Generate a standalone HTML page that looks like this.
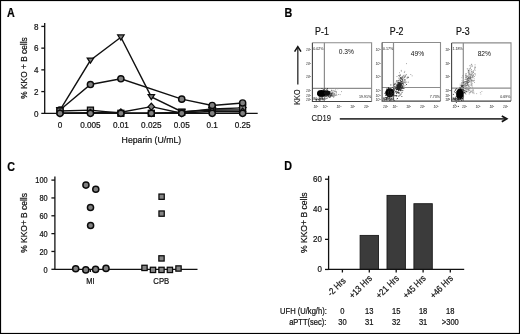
<!DOCTYPE html>
<html><head><meta charset="utf-8"><style>
html,body{margin:0;padding:0;background:#fff;}
body{width:520px;height:334px;overflow:hidden;}
svg{display:block;filter:grayscale(1) blur(0.3px);}
text{font-family:"Liberation Sans",sans-serif;fill:#111;stroke:#111;stroke-width:0.22px;}
.b{font-weight:bold;fill:#000;}
</style></head><body>
<svg width="520" height="334" viewBox="0 0 520 334">
<rect x="0" y="0" width="520" height="334" fill="#fff"/>

<text transform="translate(7.00,16.60) scale(0.88,1)" font-size="12.20" text-anchor="start" class="b">A</text>
<text transform="translate(284.60,16.80) scale(0.88,1)" font-size="12.20" text-anchor="start" class="b">B</text>
<text transform="translate(7.20,170.80) scale(0.88,1)" font-size="12.20" text-anchor="start" class="b">C</text>
<text transform="translate(284.30,170.40) scale(0.88,1)" font-size="12.20" text-anchor="start" class="b">D</text>
<g stroke="#111" stroke-width="1.3" fill="none">
<line x1="44.7" y1="22.9" x2="44.7" y2="113.3"/>
<line x1="41.3" y1="113.3" x2="257.7" y2="113.3"/>
<line x1="41.3" y1="91.58" x2="44.7" y2="91.58"/>
<line x1="41.3" y1="69.86" x2="44.7" y2="69.86"/>
<line x1="41.3" y1="48.14" x2="44.7" y2="48.14"/>
<line x1="41.3" y1="26.42" x2="44.7" y2="26.42"/>
</g>
<text transform="translate(38.60,116.50) scale(0.88,1)" font-size="9.20" text-anchor="end">0</text>
<text transform="translate(38.60,94.78) scale(0.88,1)" font-size="9.20" text-anchor="end">2</text>
<text transform="translate(38.60,73.06) scale(0.88,1)" font-size="9.20" text-anchor="end">4</text>
<text transform="translate(38.60,51.34) scale(0.88,1)" font-size="9.20" text-anchor="end">6</text>
<text transform="translate(38.60,29.62) scale(0.88,1)" font-size="9.20" text-anchor="end">8</text>
<text transform="translate(60.00,127.90) scale(0.88,1)" font-size="9.30" text-anchor="middle">0</text>
<text transform="translate(90.44,127.90) scale(0.88,1)" font-size="9.30" text-anchor="middle">0.005</text>
<text transform="translate(120.88,127.90) scale(0.88,1)" font-size="9.30" text-anchor="middle">0.01</text>
<text transform="translate(151.32,127.90) scale(0.88,1)" font-size="9.30" text-anchor="middle">0.025</text>
<text transform="translate(181.76,127.90) scale(0.88,1)" font-size="9.30" text-anchor="middle">0.05</text>
<text transform="translate(212.20,127.90) scale(0.88,1)" font-size="9.30" text-anchor="middle">0.1</text>
<text transform="translate(242.64,127.90) scale(0.88,1)" font-size="9.30" text-anchor="middle">0.25</text>
<text transform="translate(151.40,142.80) scale(0.88,1)" font-size="9.92" text-anchor="middle">Heparin (U/mL)</text>
<text transform="translate(27.20,68.00) rotate(-90) scale(0.88,1)" font-size="9.49" text-anchor="middle">% KKO + B cells</text>
<path d="M60.00,110.04 L90.44,60.30 L120.88,37.28 L151.32,96.90 L181.76,111.67 L212.20,110.04 L242.64,110.04" fill="none" stroke="#111" stroke-width="1.4"/>
<path d="M60.00,110.04 L90.44,84.52 L120.88,78.77 L181.76,99.18 L212.20,105.48 L242.64,102.98" fill="none" stroke="#111" stroke-width="1.4"/>
<path d="M60.00,111.02 L90.44,110.15 L120.88,113.30 L151.32,113.30 L181.76,112.21 L212.20,108.96 L242.64,107.87" fill="none" stroke="#111" stroke-width="1.4"/>
<path d="M60.00,113.30 L90.44,112.76 L120.88,112.21 L151.32,106.68 L181.76,113.30 L212.20,111.13 L242.64,111.67" fill="none" stroke="#111" stroke-width="1.4"/>
<path d="M60.00,113.30 L90.44,113.30 L120.88,113.30 L151.32,113.30 L181.76,113.30 L212.20,113.30 L242.64,113.30" fill="none" stroke="#111" stroke-width="1.4"/>
<path d="M56.80,107.74h6.4l-3.2,5z" fill="#808080" stroke="#0a0a0a" stroke-width="1.25"/>
<path d="M87.24,58.00h6.4l-3.2,5z" fill="#808080" stroke="#0a0a0a" stroke-width="1.25"/>
<path d="M117.68,34.98h6.4l-3.2,5z" fill="#808080" stroke="#0a0a0a" stroke-width="1.25"/>
<path d="M148.12,94.60h6.4l-3.2,5z" fill="#808080" stroke="#0a0a0a" stroke-width="1.25"/>
<path d="M178.56,109.37h6.4l-3.2,5z" fill="#808080" stroke="#0a0a0a" stroke-width="1.25"/>
<path d="M209.00,107.74h6.4l-3.2,5z" fill="#808080" stroke="#0a0a0a" stroke-width="1.25"/>
<path d="M239.44,107.74h6.4l-3.2,5z" fill="#808080" stroke="#0a0a0a" stroke-width="1.25"/>
<circle cx="60.00" cy="110.04" r="3.1" fill="#808080" stroke="#0a0a0a" stroke-width="1.45"/>
<rect x="57.00" y="108.02" width="6" height="6" fill="#808080" stroke="#0a0a0a" stroke-width="1.3"/>
<rect x="87.44" y="107.15" width="6" height="6" fill="#808080" stroke="#0a0a0a" stroke-width="1.3"/>
<rect x="117.88" y="110.30" width="6" height="6" fill="#808080" stroke="#0a0a0a" stroke-width="1.3"/>
<rect x="148.32" y="110.30" width="6" height="6" fill="#808080" stroke="#0a0a0a" stroke-width="1.3"/>
<rect x="178.76" y="109.21" width="6" height="6" fill="#808080" stroke="#0a0a0a" stroke-width="1.3"/>
<rect x="209.20" y="105.96" width="6" height="6" fill="#808080" stroke="#0a0a0a" stroke-width="1.3"/>
<rect x="239.64" y="104.87" width="6" height="6" fill="#808080" stroke="#0a0a0a" stroke-width="1.3"/>
<path d="M60.00,109.90l3.2,3.4l-3.2,3.4l-3.2,-3.4z" fill="#808080" stroke="#0a0a0a" stroke-width="1.25"/>
<path d="M90.44,109.36l3.2,3.4l-3.2,3.4l-3.2,-3.4z" fill="#808080" stroke="#0a0a0a" stroke-width="1.25"/>
<path d="M120.88,108.81l3.2,3.4l-3.2,3.4l-3.2,-3.4z" fill="#808080" stroke="#0a0a0a" stroke-width="1.25"/>
<path d="M151.32,103.28l3.2,3.4l-3.2,3.4l-3.2,-3.4z" fill="#808080" stroke="#0a0a0a" stroke-width="1.25"/>
<path d="M181.76,109.90l3.2,3.4l-3.2,3.4l-3.2,-3.4z" fill="#808080" stroke="#0a0a0a" stroke-width="1.25"/>
<path d="M212.20,107.73l3.2,3.4l-3.2,3.4l-3.2,-3.4z" fill="#808080" stroke="#0a0a0a" stroke-width="1.25"/>
<path d="M242.64,108.27l3.2,3.4l-3.2,3.4l-3.2,-3.4z" fill="#808080" stroke="#0a0a0a" stroke-width="1.25"/>
<circle cx="90.44" cy="84.52" r="3.1" fill="#808080" stroke="#0a0a0a" stroke-width="1.45"/>
<circle cx="120.88" cy="78.77" r="3.1" fill="#808080" stroke="#0a0a0a" stroke-width="1.45"/>
<circle cx="181.76" cy="99.18" r="3.1" fill="#808080" stroke="#0a0a0a" stroke-width="1.45"/>
<circle cx="212.20" cy="105.48" r="3.1" fill="#808080" stroke="#0a0a0a" stroke-width="1.45"/>
<circle cx="242.64" cy="102.98" r="3.1" fill="#808080" stroke="#0a0a0a" stroke-width="1.45"/>
<circle cx="60.00" cy="113.30" r="3.1" fill="#808080" stroke="#0a0a0a" stroke-width="1.45"/>
<circle cx="90.44" cy="113.30" r="3.1" fill="#808080" stroke="#0a0a0a" stroke-width="1.45"/>
<circle cx="120.88" cy="113.30" r="3.1" fill="#808080" stroke="#0a0a0a" stroke-width="1.45"/>
<circle cx="151.32" cy="113.30" r="3.1" fill="#808080" stroke="#0a0a0a" stroke-width="1.45"/>
<circle cx="181.76" cy="113.30" r="3.1" fill="#808080" stroke="#0a0a0a" stroke-width="1.45"/>
<circle cx="212.20" cy="113.30" r="3.1" fill="#808080" stroke="#0a0a0a" stroke-width="1.45"/>
<circle cx="242.64" cy="113.30" r="3.1" fill="#808080" stroke="#0a0a0a" stroke-width="1.45"/>
<defs><filter id="bl" x="-50%" y="-50%" width="200%" height="200%"><feGaussianBlur stdDeviation="0.9"/></filter><filter id="bl2" x="-50%" y="-50%" width="200%" height="200%"><feGaussianBlur stdDeviation="0.45"/></filter></defs>
<text transform="translate(315.10,34.70) scale(0.88,1)" font-size="10.00" text-anchor="start">P-1</text>
<line x1="324.4" y1="42.8" x2="324.4" y2="101.5" stroke="#8c8c8c" stroke-width="1.2"/>
<line x1="312.4" y1="88.3" x2="371.6" y2="88.3" stroke="#8c8c8c" stroke-width="1.2"/>
<path d="M312.4,42.8H371.6V101.5" fill="none" stroke="#8c8c8c" stroke-width="1.1"/>
<rect x="329.0" y="94.5" width="0.9" height="0.9" fill="#999"/><rect x="329.1" y="92.9" width="0.9" height="0.9" fill="#999"/><rect x="326.3" y="93.1" width="0.9" height="0.9" fill="#999"/><rect x="334.4" y="94.3" width="0.9" height="0.9" fill="#999"/><rect x="334.1" y="94.0" width="0.9" height="0.9" fill="#999"/><rect x="331.6" y="93.9" width="0.9" height="0.9" fill="#999"/><rect x="323.3" y="95.2" width="0.9" height="0.9" fill="#999"/><rect x="332.0" y="94.5" width="0.9" height="0.9" fill="#999"/><rect x="323.2" y="90.0" width="0.9" height="0.9" fill="#999"/><rect x="326.4" y="92.6" width="0.9" height="0.9" fill="#999"/><rect x="331.2" y="93.4" width="0.9" height="0.9" fill="#999"/><rect x="332.1" y="92.2" width="0.9" height="0.9" fill="#999"/><rect x="331.2" y="94.3" width="0.9" height="0.9" fill="#999"/><rect x="327.4" y="96.9" width="0.9" height="0.9" fill="#999"/><rect x="332.2" y="95.9" width="0.9" height="0.9" fill="#999"/><rect x="327.5" y="92.0" width="0.9" height="0.9" fill="#999"/><rect x="328.6" y="93.3" width="0.9" height="0.9" fill="#999"/><rect x="332.5" y="94.0" width="0.9" height="0.9" fill="#999"/><rect x="328.2" y="91.6" width="0.9" height="0.9" fill="#999"/><rect x="327.9" y="95.9" width="0.9" height="0.9" fill="#999"/><rect x="326.8" y="94.0" width="0.9" height="0.9" fill="#999"/><rect x="331.7" y="90.5" width="0.9" height="0.9" fill="#999"/><rect x="330.2" y="96.1" width="0.9" height="0.9" fill="#999"/><rect x="321.9" y="92.9" width="0.9" height="0.9" fill="#999"/><rect x="329.6" y="91.9" width="0.9" height="0.9" fill="#999"/><rect x="332.0" y="93.4" width="0.9" height="0.9" fill="#999"/><rect x="324.1" y="95.2" width="0.9" height="0.9" fill="#999"/><rect x="332.7" y="95.4" width="0.9" height="0.9" fill="#999"/><rect x="335.8" y="94.2" width="0.9" height="0.9" fill="#999"/><rect x="330.5" y="90.9" width="0.9" height="0.9" fill="#999"/><rect x="332.5" y="92.3" width="0.9" height="0.9" fill="#999"/><rect x="328.2" y="91.0" width="0.9" height="0.9" fill="#999"/><rect x="326.1" y="92.4" width="0.9" height="0.9" fill="#999"/><rect x="335.2" y="89.4" width="0.9" height="0.9" fill="#999"/><rect x="324.2" y="94.0" width="0.9" height="0.9" fill="#999"/><rect x="335.8" y="94.7" width="0.9" height="0.9" fill="#999"/><rect x="322.4" y="88.5" width="0.9" height="0.9" fill="#999"/><rect x="331.4" y="92.0" width="0.9" height="0.9" fill="#999"/><rect x="325.5" y="95.5" width="0.9" height="0.9" fill="#999"/><rect x="334.4" y="93.8" width="0.9" height="0.9" fill="#999"/><rect x="331.0" y="94.4" width="0.9" height="0.9" fill="#999"/><rect x="336.4" y="94.7" width="0.9" height="0.9" fill="#999"/><rect x="332.1" y="94.6" width="0.9" height="0.9" fill="#999"/><rect x="323.7" y="96.1" width="0.9" height="0.9" fill="#999"/><rect x="333.8" y="94.6" width="0.9" height="0.9" fill="#999"/><rect x="322.1" y="92.2" width="0.9" height="0.9" fill="#999"/><rect x="333.4" y="89.9" width="0.9" height="0.9" fill="#999"/><rect x="329.3" y="95.5" width="0.9" height="0.9" fill="#999"/><rect x="324.8" y="96.7" width="0.9" height="0.9" fill="#999"/><rect x="332.2" y="93.2" width="0.9" height="0.9" fill="#999"/><rect x="331.3" y="94.8" width="0.9" height="0.9" fill="#999"/><rect x="330.5" y="95.8" width="0.9" height="0.9" fill="#999"/><rect x="327.4" y="92.7" width="0.9" height="0.9" fill="#999"/><rect x="334.2" y="93.6" width="0.9" height="0.9" fill="#999"/><rect x="326.5" y="95.4" width="0.9" height="0.9" fill="#999"/><rect x="335.9" y="92.6" width="0.9" height="0.9" fill="#999"/><rect x="324.5" y="93.2" width="0.9" height="0.9" fill="#999"/><rect x="329.4" y="92.9" width="0.9" height="0.9" fill="#999"/><rect x="335.6" y="91.4" width="0.9" height="0.9" fill="#999"/><rect x="335.0" y="91.0" width="0.9" height="0.9" fill="#999"/><rect x="326.9" y="94.8" width="0.9" height="0.9" fill="#999"/><rect x="334.5" y="95.2" width="0.9" height="0.9" fill="#999"/><rect x="331.4" y="93.8" width="0.9" height="0.9" fill="#999"/><rect x="330.6" y="94.7" width="0.9" height="0.9" fill="#999"/><rect x="329.3" y="94.1" width="0.9" height="0.9" fill="#999"/><rect x="332.3" y="93.5" width="0.9" height="0.9" fill="#999"/><rect x="333.1" y="94.6" width="0.9" height="0.9" fill="#999"/><rect x="338.0" y="94.1" width="0.9" height="0.9" fill="#999"/><rect x="328.3" y="92.8" width="0.9" height="0.9" fill="#999"/><rect x="329.9" y="95.3" width="0.9" height="0.9" fill="#999"/><rect x="328.7" y="94.3" width="0.9" height="0.9" fill="#999"/><rect x="337.3" y="88.4" width="0.9" height="0.9" fill="#999"/><rect x="325.5" y="94.0" width="0.9" height="0.9" fill="#999"/><rect x="331.6" y="94.0" width="0.9" height="0.9" fill="#999"/><rect x="328.3" y="94.8" width="0.9" height="0.9" fill="#999"/><rect x="331.1" y="92.5" width="0.9" height="0.9" fill="#999"/><rect x="339.7" y="94.2" width="0.9" height="0.9" fill="#999"/><rect x="327.8" y="93.3" width="0.9" height="0.9" fill="#999"/><rect x="329.1" y="93.4" width="0.9" height="0.9" fill="#999"/><rect x="319.1" y="92.5" width="0.9" height="0.9" fill="#999"/><rect x="334.0" y="91.2" width="0.9" height="0.9" fill="#999"/><rect x="329.7" y="95.4" width="0.9" height="0.9" fill="#999"/><rect x="333.4" y="96.5" width="0.9" height="0.9" fill="#999"/><rect x="323.2" y="92.8" width="0.9" height="0.9" fill="#999"/><rect x="328.6" y="94.7" width="0.9" height="0.9" fill="#999"/><rect x="334.4" y="88.1" width="0.9" height="0.9" fill="#999"/><rect x="334.4" y="90.6" width="0.9" height="0.9" fill="#999"/><rect x="332.7" y="90.5" width="0.9" height="0.9" fill="#999"/><rect x="330.7" y="95.9" width="0.9" height="0.9" fill="#999"/><rect x="329.4" y="93.9" width="0.9" height="0.9" fill="#999"/><rect x="333.2" y="93.8" width="0.9" height="0.9" fill="#999"/><rect x="329.6" y="96.6" width="0.9" height="0.9" fill="#999"/><rect x="334.2" y="92.9" width="0.9" height="0.9" fill="#999"/><rect x="341.0" y="91.2" width="0.9" height="0.9" fill="#999"/><rect x="333.7" y="93.0" width="0.9" height="0.9" fill="#999"/><rect x="330.5" y="94.9" width="0.9" height="0.9" fill="#999"/><rect x="330.9" y="94.8" width="0.9" height="0.9" fill="#999"/><rect x="323.9" y="90.5" width="0.9" height="0.9" fill="#999"/><rect x="332.5" y="91.6" width="0.9" height="0.9" fill="#999"/><rect x="325.9" y="90.6" width="0.9" height="0.9" fill="#999"/><rect x="335.1" y="95.0" width="0.9" height="0.9" fill="#999"/><rect x="335.9" y="91.6" width="0.9" height="0.9" fill="#999"/><rect x="330.0" y="91.2" width="0.9" height="0.9" fill="#999"/><rect x="333.1" y="96.7" width="0.9" height="0.9" fill="#999"/><rect x="326.4" y="96.6" width="0.9" height="0.9" fill="#999"/><rect x="334.0" y="93.1" width="0.9" height="0.9" fill="#999"/><rect x="322.1" y="96.3" width="0.9" height="0.9" fill="#999"/><rect x="329.6" y="92.3" width="0.9" height="0.9" fill="#999"/><rect x="331.6" y="94.3" width="0.9" height="0.9" fill="#999"/><rect x="336.0" y="91.5" width="0.9" height="0.9" fill="#999"/>
<rect x="328.6" y="96.3" width="0.9" height="0.9" fill="#333"/><rect x="329.6" y="92.9" width="0.9" height="0.9" fill="#333"/><rect x="322.6" y="95.3" width="0.9" height="0.9" fill="#333"/><rect x="325.4" y="93.5" width="0.9" height="0.9" fill="#333"/><rect x="329.6" y="92.8" width="0.9" height="0.9" fill="#333"/><rect x="317.7" y="92.5" width="0.9" height="0.9" fill="#333"/><rect x="319.1" y="94.9" width="0.9" height="0.9" fill="#333"/><rect x="326.0" y="92.1" width="0.9" height="0.9" fill="#333"/><rect x="325.0" y="95.0" width="0.9" height="0.9" fill="#333"/><rect x="325.3" y="96.0" width="0.9" height="0.9" fill="#333"/><rect x="324.8" y="95.4" width="0.9" height="0.9" fill="#333"/><rect x="329.8" y="96.5" width="0.9" height="0.9" fill="#333"/><rect x="322.9" y="95.1" width="0.9" height="0.9" fill="#333"/><rect x="319.0" y="91.1" width="0.9" height="0.9" fill="#333"/><rect x="318.7" y="95.4" width="0.9" height="0.9" fill="#333"/><rect x="321.1" y="93.3" width="0.9" height="0.9" fill="#333"/><rect x="324.4" y="93.2" width="0.9" height="0.9" fill="#333"/><rect x="323.1" y="93.8" width="0.9" height="0.9" fill="#333"/><rect x="330.7" y="93.4" width="0.9" height="0.9" fill="#333"/><rect x="326.7" y="95.3" width="0.9" height="0.9" fill="#333"/><rect x="324.4" y="90.8" width="0.9" height="0.9" fill="#333"/><rect x="323.2" y="95.4" width="0.9" height="0.9" fill="#333"/><rect x="319.7" y="92.1" width="0.9" height="0.9" fill="#333"/><rect x="328.2" y="94.9" width="0.9" height="0.9" fill="#333"/><rect x="325.0" y="94.9" width="0.9" height="0.9" fill="#333"/><rect x="325.5" y="90.9" width="0.9" height="0.9" fill="#333"/><rect x="320.0" y="92.0" width="0.9" height="0.9" fill="#333"/><rect x="328.0" y="92.2" width="0.9" height="0.9" fill="#333"/><rect x="322.1" y="91.8" width="0.9" height="0.9" fill="#333"/><rect x="320.1" y="93.1" width="0.9" height="0.9" fill="#333"/><rect x="321.2" y="94.0" width="0.9" height="0.9" fill="#333"/><rect x="317.4" y="94.0" width="0.9" height="0.9" fill="#333"/><rect x="322.9" y="89.4" width="0.9" height="0.9" fill="#333"/><rect x="327.3" y="92.7" width="0.9" height="0.9" fill="#333"/><rect x="317.9" y="91.5" width="0.9" height="0.9" fill="#333"/><rect x="325.9" y="92.4" width="0.9" height="0.9" fill="#333"/><rect x="327.5" y="94.8" width="0.9" height="0.9" fill="#333"/><rect x="327.1" y="94.0" width="0.9" height="0.9" fill="#333"/><rect x="329.3" y="94.6" width="0.9" height="0.9" fill="#333"/><rect x="326.4" y="89.1" width="0.9" height="0.9" fill="#333"/><rect x="327.9" y="95.9" width="0.9" height="0.9" fill="#333"/><rect x="324.0" y="92.4" width="0.9" height="0.9" fill="#333"/><rect x="331.2" y="89.8" width="0.9" height="0.9" fill="#333"/><rect x="326.5" y="98.1" width="0.9" height="0.9" fill="#333"/><rect x="322.0" y="94.7" width="0.9" height="0.9" fill="#333"/><rect x="331.0" y="93.1" width="0.9" height="0.9" fill="#333"/><rect x="326.8" y="95.1" width="0.9" height="0.9" fill="#333"/><rect x="322.1" y="93.1" width="0.9" height="0.9" fill="#333"/><rect x="325.9" y="95.0" width="0.9" height="0.9" fill="#333"/><rect x="324.9" y="92.9" width="0.9" height="0.9" fill="#333"/><rect x="321.7" y="92.6" width="0.9" height="0.9" fill="#333"/><rect x="327.9" y="93.5" width="0.9" height="0.9" fill="#333"/><rect x="322.3" y="91.6" width="0.9" height="0.9" fill="#333"/><rect x="333.5" y="95.6" width="0.9" height="0.9" fill="#333"/><rect x="327.0" y="88.1" width="0.9" height="0.9" fill="#333"/><rect x="327.0" y="94.3" width="0.9" height="0.9" fill="#333"/><rect x="330.4" y="94.2" width="0.9" height="0.9" fill="#333"/><rect x="324.8" y="94.3" width="0.9" height="0.9" fill="#333"/><rect x="318.8" y="95.4" width="0.9" height="0.9" fill="#333"/><rect x="326.0" y="91.9" width="0.9" height="0.9" fill="#333"/><rect x="329.2" y="96.9" width="0.9" height="0.9" fill="#333"/><rect x="320.5" y="92.0" width="0.9" height="0.9" fill="#333"/><rect x="325.9" y="93.7" width="0.9" height="0.9" fill="#333"/><rect x="323.7" y="91.4" width="0.9" height="0.9" fill="#333"/><rect x="331.8" y="95.4" width="0.9" height="0.9" fill="#333"/><rect x="321.2" y="90.6" width="0.9" height="0.9" fill="#333"/><rect x="330.5" y="95.3" width="0.9" height="0.9" fill="#333"/><rect x="330.8" y="94.9" width="0.9" height="0.9" fill="#333"/><rect x="322.2" y="93.8" width="0.9" height="0.9" fill="#333"/><rect x="318.1" y="91.8" width="0.9" height="0.9" fill="#333"/><rect x="324.8" y="94.3" width="0.9" height="0.9" fill="#333"/><rect x="322.7" y="93.1" width="0.9" height="0.9" fill="#333"/><rect x="326.5" y="94.1" width="0.9" height="0.9" fill="#333"/><rect x="327.0" y="93.7" width="0.9" height="0.9" fill="#333"/><rect x="324.0" y="94.9" width="0.9" height="0.9" fill="#333"/><rect x="325.2" y="91.6" width="0.9" height="0.9" fill="#333"/><rect x="323.0" y="93.3" width="0.9" height="0.9" fill="#333"/><rect x="324.6" y="93.6" width="0.9" height="0.9" fill="#333"/><rect x="325.0" y="93.7" width="0.9" height="0.9" fill="#333"/><rect x="324.6" y="90.8" width="0.9" height="0.9" fill="#333"/><rect x="326.3" y="95.4" width="0.9" height="0.9" fill="#333"/><rect x="326.4" y="92.9" width="0.9" height="0.9" fill="#333"/><rect x="326.4" y="91.4" width="0.9" height="0.9" fill="#333"/><rect x="318.9" y="93.4" width="0.9" height="0.9" fill="#333"/><rect x="322.0" y="94.8" width="0.9" height="0.9" fill="#333"/><rect x="321.5" y="88.0" width="0.9" height="0.9" fill="#333"/><rect x="321.7" y="96.5" width="0.9" height="0.9" fill="#333"/><rect x="323.8" y="90.6" width="0.9" height="0.9" fill="#333"/><rect x="322.6" y="94.3" width="0.9" height="0.9" fill="#333"/><rect x="326.6" y="93.7" width="0.9" height="0.9" fill="#333"/><rect x="329.7" y="94.7" width="0.9" height="0.9" fill="#333"/><rect x="324.9" y="94.5" width="0.9" height="0.9" fill="#333"/><rect x="330.3" y="95.2" width="0.9" height="0.9" fill="#333"/><rect x="328.3" y="91.1" width="0.9" height="0.9" fill="#333"/><rect x="324.5" y="94.8" width="0.9" height="0.9" fill="#333"/><rect x="324.1" y="95.4" width="0.9" height="0.9" fill="#333"/><rect x="326.9" y="95.1" width="0.9" height="0.9" fill="#333"/><rect x="324.3" y="98.4" width="0.9" height="0.9" fill="#333"/><rect x="329.0" y="92.9" width="0.9" height="0.9" fill="#333"/><rect x="325.3" y="98.5" width="0.9" height="0.9" fill="#333"/><rect x="323.9" y="95.0" width="0.9" height="0.9" fill="#333"/><rect x="328.1" y="93.3" width="0.9" height="0.9" fill="#333"/><rect x="321.3" y="93.7" width="0.9" height="0.9" fill="#333"/><rect x="326.2" y="95.6" width="0.9" height="0.9" fill="#333"/><rect x="327.5" y="93.3" width="0.9" height="0.9" fill="#333"/><rect x="327.7" y="94.4" width="0.9" height="0.9" fill="#333"/><rect x="325.7" y="93.4" width="0.9" height="0.9" fill="#333"/><rect x="324.2" y="94.7" width="0.9" height="0.9" fill="#333"/><rect x="321.6" y="92.0" width="0.9" height="0.9" fill="#333"/><rect x="325.0" y="90.4" width="0.9" height="0.9" fill="#333"/><rect x="323.6" y="89.3" width="0.9" height="0.9" fill="#333"/><rect x="322.8" y="94.4" width="0.9" height="0.9" fill="#333"/><rect x="326.8" y="93.2" width="0.9" height="0.9" fill="#333"/><rect x="324.3" y="90.5" width="0.9" height="0.9" fill="#333"/><rect x="330.8" y="94.3" width="0.9" height="0.9" fill="#333"/><rect x="328.5" y="91.5" width="0.9" height="0.9" fill="#333"/><rect x="324.4" y="89.7" width="0.9" height="0.9" fill="#333"/><rect x="327.5" y="95.2" width="0.9" height="0.9" fill="#333"/><rect x="318.9" y="93.2" width="0.9" height="0.9" fill="#333"/><rect x="327.0" y="89.8" width="0.9" height="0.9" fill="#333"/><rect x="319.2" y="91.2" width="0.9" height="0.9" fill="#333"/><rect x="323.0" y="90.5" width="0.9" height="0.9" fill="#333"/><rect x="325.1" y="93.8" width="0.9" height="0.9" fill="#333"/><rect x="327.0" y="94.7" width="0.9" height="0.9" fill="#333"/><rect x="329.8" y="95.6" width="0.9" height="0.9" fill="#333"/><rect x="320.8" y="92.3" width="0.9" height="0.9" fill="#333"/><rect x="321.6" y="91.1" width="0.9" height="0.9" fill="#333"/><rect x="324.7" y="93.3" width="0.9" height="0.9" fill="#333"/><rect x="326.6" y="90.1" width="0.9" height="0.9" fill="#333"/><rect x="321.0" y="93.3" width="0.9" height="0.9" fill="#333"/><rect x="324.4" y="92.7" width="0.9" height="0.9" fill="#333"/><rect x="324.8" y="91.8" width="0.9" height="0.9" fill="#333"/><rect x="327.2" y="94.0" width="0.9" height="0.9" fill="#333"/><rect x="324.7" y="92.0" width="0.9" height="0.9" fill="#333"/><rect x="324.4" y="87.9" width="0.9" height="0.9" fill="#333"/><rect x="321.9" y="93.4" width="0.9" height="0.9" fill="#333"/><rect x="320.2" y="93.7" width="0.9" height="0.9" fill="#333"/><rect x="325.5" y="90.5" width="0.9" height="0.9" fill="#333"/><rect x="324.2" y="92.7" width="0.9" height="0.9" fill="#333"/><rect x="326.5" y="94.5" width="0.9" height="0.9" fill="#333"/><rect x="324.9" y="91.6" width="0.9" height="0.9" fill="#333"/><rect x="324.5" y="93.2" width="0.9" height="0.9" fill="#333"/><rect x="327.4" y="93.9" width="0.9" height="0.9" fill="#333"/><rect x="322.7" y="90.6" width="0.9" height="0.9" fill="#333"/><rect x="323.8" y="91.8" width="0.9" height="0.9" fill="#333"/><rect x="321.4" y="93.1" width="0.9" height="0.9" fill="#333"/><rect x="323.4" y="93.5" width="0.9" height="0.9" fill="#333"/><rect x="326.7" y="92.5" width="0.9" height="0.9" fill="#333"/><rect x="332.4" y="92.7" width="0.9" height="0.9" fill="#333"/><rect x="328.5" y="93.5" width="0.9" height="0.9" fill="#333"/>
<g filter="url(#bl2)"><ellipse cx="321.4" cy="93.5" rx="4.4" ry="3.4" fill="#000"/><ellipse cx="327.3" cy="92.9" rx="3.0" ry="2.3" fill="#111"/></g>
<rect x="321.3" y="96.5" width="0.9" height="0.9" fill="#444"/><rect x="315.7" y="98.8" width="0.9" height="0.9" fill="#444"/><rect x="319.8" y="100.7" width="0.9" height="0.9" fill="#444"/><rect x="319.0" y="99.8" width="0.9" height="0.9" fill="#444"/><rect x="320.3" y="99.5" width="0.9" height="0.9" fill="#444"/><rect x="319.5" y="98.5" width="0.9" height="0.9" fill="#444"/><rect x="319.5" y="97.6" width="0.9" height="0.9" fill="#444"/><rect x="321.5" y="97.7" width="0.9" height="0.9" fill="#444"/><rect x="318.7" y="100.5" width="0.9" height="0.9" fill="#444"/><rect x="317.3" y="98.6" width="0.9" height="0.9" fill="#444"/><rect x="321.5" y="98.6" width="0.9" height="0.9" fill="#444"/><rect x="315.6" y="98.8" width="0.9" height="0.9" fill="#444"/><rect x="319.7" y="99.2" width="0.9" height="0.9" fill="#444"/><rect x="315.7" y="100.2" width="0.9" height="0.9" fill="#444"/><rect x="323.0" y="98.6" width="0.9" height="0.9" fill="#444"/><rect x="318.8" y="98.2" width="0.9" height="0.9" fill="#444"/><rect x="322.2" y="98.0" width="0.9" height="0.9" fill="#444"/><rect x="320.0" y="98.2" width="0.9" height="0.9" fill="#444"/><rect x="315.9" y="99.2" width="0.9" height="0.9" fill="#444"/><rect x="322.0" y="98.6" width="0.9" height="0.9" fill="#444"/><rect x="316.0" y="99.3" width="0.9" height="0.9" fill="#444"/><rect x="317.9" y="98.9" width="0.9" height="0.9" fill="#444"/><rect x="322.6" y="99.6" width="0.9" height="0.9" fill="#444"/><rect x="316.4" y="100.7" width="0.9" height="0.9" fill="#444"/><rect x="318.0" y="99.3" width="0.9" height="0.9" fill="#444"/>
<path d="M312.4,42.8V101.5H371.6" fill="none" stroke="#444" stroke-width="1.1"/>
<text transform="translate(346.40,54.40) scale(0.88,1)" font-size="7.60" text-anchor="middle" style="stroke:none" fill="#222">0.3%</text>
<text x="313.2" y="50.2" font-size="3.6" fill="#444" style="stroke:none">0.02%</text>
<text x="371.1" y="97.8" font-size="3.6" text-anchor="end" fill="#444" style="stroke:none">19.91%</text>
<text x="313.2" y="100.2" font-size="3.6" fill="#444" style="stroke:none">80.1%</text>
<text x="311.1" y="51.1" font-size="3.3" text-anchor="end" fill="#777" style="stroke:none;font-style:italic">10<tspan font-size="2.4" dy="-1.1">1</tspan></text>
<text x="311.1" y="64.8" font-size="3.3" text-anchor="end" fill="#777" style="stroke:none;font-style:italic">10<tspan font-size="2.4" dy="-1.1">1</tspan></text>
<text x="311.1" y="78.3" font-size="3.3" text-anchor="end" fill="#777" style="stroke:none;font-style:italic">10<tspan font-size="2.4" dy="-1.1">1</tspan></text>
<text x="311.1" y="91.8" font-size="3.3" text-anchor="end" fill="#777" style="stroke:none;font-style:italic">10<tspan font-size="2.4" dy="-1.1">1</tspan></text>
<text x="311.1" y="97.4" font-size="3.3" text-anchor="end" fill="#777" style="stroke:none;font-style:italic">10<tspan font-size="2.4" dy="-1.1">1</tspan></text>
<text x="311.1" y="101.3" font-size="3.3" text-anchor="end" fill="#777" style="stroke:none;font-style:italic">10<tspan font-size="2.4" dy="-1.1">1</tspan></text>
<text x="315.9" y="108.4" font-size="3.3" text-anchor="middle" fill="#777" style="stroke:none;font-style:italic">10<tspan font-size="2.4" dy="-1.1">1</tspan></text>
<text x="325.3" y="108.4" font-size="3.3" text-anchor="middle" fill="#777" style="stroke:none;font-style:italic">10<tspan font-size="2.4" dy="-1.1">1</tspan></text>
<text x="339.0" y="108.4" font-size="3.3" text-anchor="middle" fill="#777" style="stroke:none;font-style:italic">10<tspan font-size="2.4" dy="-1.1">1</tspan></text>
<text x="352.7" y="108.4" font-size="3.3" text-anchor="middle" fill="#777" style="stroke:none;font-style:italic">10<tspan font-size="2.4" dy="-1.1">1</tspan></text>
<text x="366.4" y="108.4" font-size="3.3" text-anchor="middle" fill="#777" style="stroke:none;font-style:italic">10<tspan font-size="2.4" dy="-1.1">1</tspan></text>
<text transform="translate(389.80,34.70) scale(0.88,1)" font-size="10.00" text-anchor="start">P-2</text>
<line x1="393.5" y1="42.5" x2="393.5" y2="101.1" stroke="#8c8c8c" stroke-width="1.2"/>
<line x1="382.1" y1="87.5" x2="440.5" y2="87.5" stroke="#8c8c8c" stroke-width="1.2"/>
<path d="M382.1,42.5H440.5V101.1" fill="none" stroke="#8c8c8c" stroke-width="1.1"/>
<rect x="398.3" y="82.1" width="0.9" height="0.9" fill="#999"/><rect x="391.4" y="91.3" width="0.9" height="0.9" fill="#999"/><rect x="406.3" y="77.6" width="0.9" height="0.9" fill="#999"/><rect x="399.1" y="72.3" width="0.9" height="0.9" fill="#999"/><rect x="404.3" y="81.6" width="0.9" height="0.9" fill="#999"/><rect x="400.5" y="81.2" width="0.9" height="0.9" fill="#999"/><rect x="401.9" y="76.7" width="0.9" height="0.9" fill="#999"/><rect x="403.0" y="74.9" width="0.9" height="0.9" fill="#999"/><rect x="399.2" y="84.7" width="0.9" height="0.9" fill="#999"/><rect x="401.8" y="82.2" width="0.9" height="0.9" fill="#999"/><rect x="397.1" y="83.0" width="0.9" height="0.9" fill="#999"/><rect x="395.4" y="91.3" width="0.9" height="0.9" fill="#999"/><rect x="402.4" y="83.1" width="0.9" height="0.9" fill="#999"/><rect x="400.1" y="78.6" width="0.9" height="0.9" fill="#999"/><rect x="398.1" y="80.0" width="0.9" height="0.9" fill="#999"/><rect x="399.8" y="86.2" width="0.9" height="0.9" fill="#999"/><rect x="397.3" y="95.4" width="0.9" height="0.9" fill="#999"/><rect x="398.0" y="82.3" width="0.9" height="0.9" fill="#999"/><rect x="411.7" y="75.4" width="0.9" height="0.9" fill="#999"/><rect x="398.2" y="83.4" width="0.9" height="0.9" fill="#999"/><rect x="399.6" y="85.5" width="0.9" height="0.9" fill="#999"/><rect x="398.6" y="84.8" width="0.9" height="0.9" fill="#999"/><rect x="398.6" y="87.4" width="0.9" height="0.9" fill="#999"/><rect x="396.5" y="76.1" width="0.9" height="0.9" fill="#999"/><rect x="402.1" y="77.2" width="0.9" height="0.9" fill="#999"/><rect x="395.8" y="85.5" width="0.9" height="0.9" fill="#999"/><rect x="396.9" y="85.9" width="0.9" height="0.9" fill="#999"/><rect x="401.5" y="85.5" width="0.9" height="0.9" fill="#999"/><rect x="401.6" y="82.9" width="0.9" height="0.9" fill="#999"/><rect x="396.1" y="81.4" width="0.9" height="0.9" fill="#999"/><rect x="402.4" y="80.5" width="0.9" height="0.9" fill="#999"/><rect x="398.2" y="87.1" width="0.9" height="0.9" fill="#999"/><rect x="396.2" y="85.7" width="0.9" height="0.9" fill="#999"/><rect x="406.4" y="81.8" width="0.9" height="0.9" fill="#999"/><rect x="400.7" y="82.3" width="0.9" height="0.9" fill="#999"/><rect x="403.7" y="86.4" width="0.9" height="0.9" fill="#999"/><rect x="403.9" y="80.0" width="0.9" height="0.9" fill="#999"/><rect x="400.0" y="82.9" width="0.9" height="0.9" fill="#999"/><rect x="392.0" y="89.3" width="0.9" height="0.9" fill="#999"/><rect x="406.1" y="74.1" width="0.9" height="0.9" fill="#999"/><rect x="402.4" y="83.0" width="0.9" height="0.9" fill="#999"/><rect x="400.5" y="85.5" width="0.9" height="0.9" fill="#999"/><rect x="396.2" y="80.3" width="0.9" height="0.9" fill="#999"/><rect x="405.4" y="81.3" width="0.9" height="0.9" fill="#999"/><rect x="399.9" y="74.3" width="0.9" height="0.9" fill="#999"/><rect x="395.9" y="83.6" width="0.9" height="0.9" fill="#999"/><rect x="403.9" y="87.2" width="0.9" height="0.9" fill="#999"/><rect x="396.1" y="95.8" width="0.9" height="0.9" fill="#999"/><rect x="399.9" y="78.7" width="0.9" height="0.9" fill="#999"/><rect x="400.4" y="86.6" width="0.9" height="0.9" fill="#999"/><rect x="399.5" y="75.4" width="0.9" height="0.9" fill="#999"/><rect x="400.3" y="84.7" width="0.9" height="0.9" fill="#999"/><rect x="396.7" y="80.5" width="0.9" height="0.9" fill="#999"/><rect x="397.5" y="85.0" width="0.9" height="0.9" fill="#999"/><rect x="399.8" y="82.4" width="0.9" height="0.9" fill="#999"/><rect x="396.8" y="88.6" width="0.9" height="0.9" fill="#999"/><rect x="404.7" y="82.4" width="0.9" height="0.9" fill="#999"/><rect x="403.9" y="79.6" width="0.9" height="0.9" fill="#999"/><rect x="398.7" y="87.3" width="0.9" height="0.9" fill="#999"/><rect x="405.1" y="82.4" width="0.9" height="0.9" fill="#999"/><rect x="399.4" y="84.0" width="0.9" height="0.9" fill="#999"/><rect x="395.7" y="81.5" width="0.9" height="0.9" fill="#999"/><rect x="397.3" y="84.4" width="0.9" height="0.9" fill="#999"/><rect x="400.9" y="70.7" width="0.9" height="0.9" fill="#999"/><rect x="399.6" y="84.5" width="0.9" height="0.9" fill="#999"/><rect x="396.6" y="87.4" width="0.9" height="0.9" fill="#999"/><rect x="400.5" y="79.3" width="0.9" height="0.9" fill="#999"/><rect x="404.6" y="74.7" width="0.9" height="0.9" fill="#999"/><rect x="398.1" y="82.2" width="0.9" height="0.9" fill="#999"/><rect x="402.7" y="83.0" width="0.9" height="0.9" fill="#999"/><rect x="402.2" y="79.6" width="0.9" height="0.9" fill="#999"/><rect x="397.4" y="92.7" width="0.9" height="0.9" fill="#999"/><rect x="393.2" y="95.6" width="0.9" height="0.9" fill="#999"/><rect x="398.2" y="82.4" width="0.9" height="0.9" fill="#999"/><rect x="398.4" y="89.0" width="0.9" height="0.9" fill="#999"/><rect x="400.8" y="69.9" width="0.9" height="0.9" fill="#999"/><rect x="400.1" y="88.1" width="0.9" height="0.9" fill="#999"/><rect x="396.3" y="98.5" width="0.9" height="0.9" fill="#999"/><rect x="400.1" y="84.6" width="0.9" height="0.9" fill="#999"/><rect x="401.9" y="86.0" width="0.9" height="0.9" fill="#999"/><rect x="407.2" y="77.7" width="0.9" height="0.9" fill="#999"/><rect x="406.0" y="63.2" width="0.9" height="0.9" fill="#999"/><rect x="403.1" y="81.7" width="0.9" height="0.9" fill="#999"/><rect x="398.2" y="96.1" width="0.9" height="0.9" fill="#999"/><rect x="400.5" y="81.6" width="0.9" height="0.9" fill="#999"/><rect x="400.3" y="77.8" width="0.9" height="0.9" fill="#999"/><rect x="396.9" y="86.0" width="0.9" height="0.9" fill="#999"/><rect x="400.0" y="83.4" width="0.9" height="0.9" fill="#999"/><rect x="397.6" y="88.0" width="0.9" height="0.9" fill="#999"/><rect x="401.7" y="82.7" width="0.9" height="0.9" fill="#999"/><rect x="402.2" y="82.8" width="0.9" height="0.9" fill="#999"/><rect x="393.8" y="90.0" width="0.9" height="0.9" fill="#999"/><rect x="403.3" y="78.1" width="0.9" height="0.9" fill="#999"/><rect x="402.3" y="86.1" width="0.9" height="0.9" fill="#999"/><rect x="392.3" y="90.5" width="0.9" height="0.9" fill="#999"/><rect x="399.1" y="88.4" width="0.9" height="0.9" fill="#999"/><rect x="400.9" y="82.4" width="0.9" height="0.9" fill="#999"/><rect x="393.6" y="86.9" width="0.9" height="0.9" fill="#999"/><rect x="400.7" y="81.4" width="0.9" height="0.9" fill="#999"/><rect x="400.8" y="83.8" width="0.9" height="0.9" fill="#999"/><rect x="402.7" y="81.6" width="0.9" height="0.9" fill="#999"/><rect x="404.3" y="70.9" width="0.9" height="0.9" fill="#999"/><rect x="397.4" y="86.4" width="0.9" height="0.9" fill="#999"/><rect x="404.5" y="82.3" width="0.9" height="0.9" fill="#999"/><rect x="396.4" y="91.8" width="0.9" height="0.9" fill="#999"/><rect x="397.6" y="86.8" width="0.9" height="0.9" fill="#999"/><rect x="404.6" y="85.0" width="0.9" height="0.9" fill="#999"/><rect x="404.9" y="80.3" width="0.9" height="0.9" fill="#999"/><rect x="400.7" y="82.8" width="0.9" height="0.9" fill="#999"/><rect x="398.0" y="89.5" width="0.9" height="0.9" fill="#999"/><rect x="408.1" y="81.7" width="0.9" height="0.9" fill="#999"/><rect x="397.4" y="85.2" width="0.9" height="0.9" fill="#999"/><rect x="396.0" y="84.7" width="0.9" height="0.9" fill="#999"/><rect x="402.2" y="82.0" width="0.9" height="0.9" fill="#999"/><rect x="404.7" y="74.8" width="0.9" height="0.9" fill="#999"/><rect x="405.3" y="75.1" width="0.9" height="0.9" fill="#999"/><rect x="399.2" y="79.1" width="0.9" height="0.9" fill="#999"/><rect x="397.1" y="87.4" width="0.9" height="0.9" fill="#999"/><rect x="401.0" y="80.8" width="0.9" height="0.9" fill="#999"/><rect x="398.3" y="92.5" width="0.9" height="0.9" fill="#999"/><rect x="399.3" y="85.1" width="0.9" height="0.9" fill="#999"/><rect x="402.9" y="85.8" width="0.9" height="0.9" fill="#999"/><rect x="391.3" y="95.7" width="0.9" height="0.9" fill="#999"/><rect x="410.3" y="74.1" width="0.9" height="0.9" fill="#999"/><rect x="399.0" y="85.3" width="0.9" height="0.9" fill="#999"/><rect x="401.3" y="87.8" width="0.9" height="0.9" fill="#999"/><rect x="401.4" y="76.8" width="0.9" height="0.9" fill="#999"/><rect x="398.2" y="88.9" width="0.9" height="0.9" fill="#999"/><rect x="399.0" y="76.1" width="0.9" height="0.9" fill="#999"/><rect x="403.9" y="72.1" width="0.9" height="0.9" fill="#999"/><rect x="400.2" y="80.3" width="0.9" height="0.9" fill="#999"/><rect x="402.7" y="79.5" width="0.9" height="0.9" fill="#999"/><rect x="398.3" y="79.9" width="0.9" height="0.9" fill="#999"/><rect x="401.2" y="79.2" width="0.9" height="0.9" fill="#999"/><rect x="398.5" y="87.2" width="0.9" height="0.9" fill="#999"/><rect x="399.8" y="93.8" width="0.9" height="0.9" fill="#999"/><rect x="398.7" y="79.8" width="0.9" height="0.9" fill="#999"/><rect x="389.1" y="91.2" width="0.9" height="0.9" fill="#999"/><rect x="398.0" y="82.1" width="0.9" height="0.9" fill="#999"/><rect x="404.3" y="75.9" width="0.9" height="0.9" fill="#999"/>
<rect x="400.0" y="86.3" width="0.9" height="0.9" fill="#333"/><rect x="394.6" y="85.8" width="0.9" height="0.9" fill="#333"/><rect x="404.5" y="79.0" width="0.9" height="0.9" fill="#333"/><rect x="400.4" y="87.5" width="0.9" height="0.9" fill="#333"/><rect x="399.3" y="88.2" width="0.9" height="0.9" fill="#333"/><rect x="402.2" y="86.1" width="0.9" height="0.9" fill="#333"/><rect x="401.5" y="85.0" width="0.9" height="0.9" fill="#333"/><rect x="401.8" y="83.1" width="0.9" height="0.9" fill="#333"/><rect x="396.1" y="93.2" width="0.9" height="0.9" fill="#333"/><rect x="400.2" y="85.7" width="0.9" height="0.9" fill="#333"/><rect x="397.7" y="81.8" width="0.9" height="0.9" fill="#333"/><rect x="398.0" y="90.1" width="0.9" height="0.9" fill="#333"/><rect x="399.1" y="88.6" width="0.9" height="0.9" fill="#333"/><rect x="396.8" y="91.7" width="0.9" height="0.9" fill="#333"/><rect x="399.0" y="83.4" width="0.9" height="0.9" fill="#333"/><rect x="400.8" y="87.0" width="0.9" height="0.9" fill="#333"/><rect x="399.3" y="83.3" width="0.9" height="0.9" fill="#333"/><rect x="397.5" y="88.4" width="0.9" height="0.9" fill="#333"/><rect x="401.6" y="81.2" width="0.9" height="0.9" fill="#333"/><rect x="399.6" y="87.1" width="0.9" height="0.9" fill="#333"/><rect x="395.6" y="88.5" width="0.9" height="0.9" fill="#333"/><rect x="398.9" y="84.4" width="0.9" height="0.9" fill="#333"/><rect x="398.7" y="92.2" width="0.9" height="0.9" fill="#333"/><rect x="396.8" y="87.3" width="0.9" height="0.9" fill="#333"/><rect x="393.5" y="95.1" width="0.9" height="0.9" fill="#333"/><rect x="396.1" y="90.7" width="0.9" height="0.9" fill="#333"/><rect x="396.3" y="88.9" width="0.9" height="0.9" fill="#333"/><rect x="407.7" y="77.0" width="0.9" height="0.9" fill="#333"/><rect x="397.3" y="87.8" width="0.9" height="0.9" fill="#333"/><rect x="399.8" y="83.1" width="0.9" height="0.9" fill="#333"/><rect x="403.5" y="88.0" width="0.9" height="0.9" fill="#333"/><rect x="394.1" y="88.3" width="0.9" height="0.9" fill="#333"/><rect x="393.5" y="89.5" width="0.9" height="0.9" fill="#333"/><rect x="397.5" y="86.2" width="0.9" height="0.9" fill="#333"/><rect x="401.5" y="87.5" width="0.9" height="0.9" fill="#333"/><rect x="398.6" y="77.7" width="0.9" height="0.9" fill="#333"/><rect x="400.4" y="90.1" width="0.9" height="0.9" fill="#333"/><rect x="395.9" y="89.0" width="0.9" height="0.9" fill="#333"/><rect x="399.1" y="89.1" width="0.9" height="0.9" fill="#333"/><rect x="394.6" y="82.9" width="0.9" height="0.9" fill="#333"/><rect x="399.8" y="89.8" width="0.9" height="0.9" fill="#333"/><rect x="404.7" y="76.3" width="0.9" height="0.9" fill="#333"/><rect x="398.6" y="88.2" width="0.9" height="0.9" fill="#333"/><rect x="406.0" y="84.0" width="0.9" height="0.9" fill="#333"/><rect x="398.2" y="85.9" width="0.9" height="0.9" fill="#333"/><rect x="401.6" y="84.8" width="0.9" height="0.9" fill="#333"/><rect x="402.7" y="83.6" width="0.9" height="0.9" fill="#333"/><rect x="400.4" y="84.0" width="0.9" height="0.9" fill="#333"/><rect x="400.4" y="83.2" width="0.9" height="0.9" fill="#333"/><rect x="393.9" y="89.4" width="0.9" height="0.9" fill="#333"/><rect x="400.5" y="83.9" width="0.9" height="0.9" fill="#333"/><rect x="397.9" y="90.3" width="0.9" height="0.9" fill="#333"/><rect x="397.1" y="84.8" width="0.9" height="0.9" fill="#333"/><rect x="399.4" y="88.6" width="0.9" height="0.9" fill="#333"/><rect x="401.5" y="76.8" width="0.9" height="0.9" fill="#333"/><rect x="401.2" y="88.4" width="0.9" height="0.9" fill="#333"/><rect x="399.5" y="84.8" width="0.9" height="0.9" fill="#333"/><rect x="400.2" y="84.4" width="0.9" height="0.9" fill="#333"/><rect x="397.9" y="82.1" width="0.9" height="0.9" fill="#333"/><rect x="398.7" y="82.9" width="0.9" height="0.9" fill="#333"/><rect x="395.5" y="87.8" width="0.9" height="0.9" fill="#333"/><rect x="395.2" y="87.8" width="0.9" height="0.9" fill="#333"/><rect x="396.3" y="86.7" width="0.9" height="0.9" fill="#333"/><rect x="401.7" y="87.9" width="0.9" height="0.9" fill="#333"/><rect x="397.3" y="85.6" width="0.9" height="0.9" fill="#333"/><rect x="402.0" y="78.8" width="0.9" height="0.9" fill="#333"/><rect x="397.4" y="86.2" width="0.9" height="0.9" fill="#333"/><rect x="397.9" y="86.0" width="0.9" height="0.9" fill="#333"/><rect x="399.4" y="89.8" width="0.9" height="0.9" fill="#333"/><rect x="400.0" y="89.2" width="0.9" height="0.9" fill="#333"/><rect x="398.4" y="85.7" width="0.9" height="0.9" fill="#333"/><rect x="398.9" y="84.5" width="0.9" height="0.9" fill="#333"/><rect x="401.3" y="78.6" width="0.9" height="0.9" fill="#333"/><rect x="398.3" y="85.6" width="0.9" height="0.9" fill="#333"/><rect x="396.9" y="85.1" width="0.9" height="0.9" fill="#333"/><rect x="400.4" y="85.7" width="0.9" height="0.9" fill="#333"/><rect x="407.5" y="76.6" width="0.9" height="0.9" fill="#333"/><rect x="401.4" y="78.1" width="0.9" height="0.9" fill="#333"/><rect x="397.0" y="98.0" width="0.9" height="0.9" fill="#333"/><rect x="393.4" y="84.6" width="0.9" height="0.9" fill="#333"/><rect x="400.6" y="85.1" width="0.9" height="0.9" fill="#333"/><rect x="403.7" y="77.0" width="0.9" height="0.9" fill="#333"/><rect x="400.3" y="88.2" width="0.9" height="0.9" fill="#333"/><rect x="400.0" y="83.5" width="0.9" height="0.9" fill="#333"/><rect x="401.1" y="84.5" width="0.9" height="0.9" fill="#333"/><rect x="400.3" y="84.0" width="0.9" height="0.9" fill="#333"/><rect x="394.2" y="84.1" width="0.9" height="0.9" fill="#333"/><rect x="398.3" y="89.3" width="0.9" height="0.9" fill="#333"/><rect x="397.2" y="85.2" width="0.9" height="0.9" fill="#333"/><rect x="400.1" y="87.1" width="0.9" height="0.9" fill="#333"/><rect x="398.6" y="95.4" width="0.9" height="0.9" fill="#333"/><rect x="400.0" y="77.2" width="0.9" height="0.9" fill="#333"/><rect x="398.5" y="93.1" width="0.9" height="0.9" fill="#333"/><rect x="399.7" y="90.2" width="0.9" height="0.9" fill="#333"/><rect x="398.8" y="82.5" width="0.9" height="0.9" fill="#333"/><rect x="402.3" y="82.8" width="0.9" height="0.9" fill="#333"/><rect x="396.6" y="80.4" width="0.9" height="0.9" fill="#333"/><rect x="401.4" y="96.1" width="0.9" height="0.9" fill="#333"/><rect x="398.6" y="82.4" width="0.9" height="0.9" fill="#333"/><rect x="400.7" y="83.0" width="0.9" height="0.9" fill="#333"/><rect x="402.0" y="86.7" width="0.9" height="0.9" fill="#333"/><rect x="394.6" y="90.7" width="0.9" height="0.9" fill="#333"/><rect x="397.4" y="86.5" width="0.9" height="0.9" fill="#333"/><rect x="399.5" y="84.7" width="0.9" height="0.9" fill="#333"/><rect x="400.8" y="83.3" width="0.9" height="0.9" fill="#333"/><rect x="398.4" y="75.2" width="0.9" height="0.9" fill="#333"/><rect x="397.4" y="81.8" width="0.9" height="0.9" fill="#333"/><rect x="398.9" y="86.2" width="0.9" height="0.9" fill="#333"/><rect x="400.0" y="86.9" width="0.9" height="0.9" fill="#333"/><rect x="398.4" y="82.4" width="0.9" height="0.9" fill="#333"/><rect x="394.7" y="83.6" width="0.9" height="0.9" fill="#333"/><rect x="399.2" y="88.6" width="0.9" height="0.9" fill="#333"/><rect x="399.0" y="85.2" width="0.9" height="0.9" fill="#333"/><rect x="401.0" y="86.8" width="0.9" height="0.9" fill="#333"/><rect x="399.7" y="89.0" width="0.9" height="0.9" fill="#333"/><rect x="397.4" y="91.7" width="0.9" height="0.9" fill="#333"/><rect x="398.3" y="84.0" width="0.9" height="0.9" fill="#333"/><rect x="398.5" y="82.0" width="0.9" height="0.9" fill="#333"/><rect x="399.6" y="94.7" width="0.9" height="0.9" fill="#333"/><rect x="398.2" y="88.4" width="0.9" height="0.9" fill="#333"/><rect x="400.3" y="90.3" width="0.9" height="0.9" fill="#333"/><rect x="403.6" y="81.6" width="0.9" height="0.9" fill="#333"/><rect x="396.9" y="87.4" width="0.9" height="0.9" fill="#333"/><rect x="401.9" y="87.6" width="0.9" height="0.9" fill="#333"/><rect x="397.7" y="83.8" width="0.9" height="0.9" fill="#333"/><rect x="398.9" y="81.9" width="0.9" height="0.9" fill="#333"/><rect x="403.2" y="84.5" width="0.9" height="0.9" fill="#333"/><rect x="395.7" y="95.2" width="0.9" height="0.9" fill="#333"/><rect x="401.0" y="88.4" width="0.9" height="0.9" fill="#333"/><rect x="397.0" y="87.3" width="0.9" height="0.9" fill="#333"/><rect x="401.5" y="89.9" width="0.9" height="0.9" fill="#333"/><rect x="401.6" y="87.4" width="0.9" height="0.9" fill="#333"/><rect x="400.4" y="85.6" width="0.9" height="0.9" fill="#333"/><rect x="397.9" y="91.8" width="0.9" height="0.9" fill="#333"/><rect x="396.0" y="84.6" width="0.9" height="0.9" fill="#333"/><rect x="400.4" y="83.8" width="0.9" height="0.9" fill="#333"/><rect x="397.1" y="89.1" width="0.9" height="0.9" fill="#333"/><rect x="402.4" y="90.2" width="0.9" height="0.9" fill="#333"/><rect x="402.1" y="79.7" width="0.9" height="0.9" fill="#333"/><rect x="403.0" y="87.8" width="0.9" height="0.9" fill="#333"/><rect x="400.7" y="81.2" width="0.9" height="0.9" fill="#333"/><rect x="400.6" y="81.3" width="0.9" height="0.9" fill="#333"/><rect x="398.4" y="88.0" width="0.9" height="0.9" fill="#333"/><rect x="398.6" y="87.2" width="0.9" height="0.9" fill="#333"/><rect x="395.0" y="91.4" width="0.9" height="0.9" fill="#333"/><rect x="400.4" y="77.8" width="0.9" height="0.9" fill="#333"/><rect x="399.8" y="82.6" width="0.9" height="0.9" fill="#333"/><rect x="397.4" y="83.7" width="0.9" height="0.9" fill="#333"/><rect x="401.5" y="81.2" width="0.9" height="0.9" fill="#333"/><rect x="396.5" y="91.9" width="0.9" height="0.9" fill="#333"/><rect x="400.7" y="85.9" width="0.9" height="0.9" fill="#333"/><rect x="399.5" y="85.6" width="0.9" height="0.9" fill="#333"/><rect x="397.8" y="89.1" width="0.9" height="0.9" fill="#333"/><rect x="402.5" y="75.8" width="0.9" height="0.9" fill="#333"/><rect x="400.3" y="82.2" width="0.9" height="0.9" fill="#333"/><rect x="401.3" y="83.9" width="0.9" height="0.9" fill="#333"/><rect x="396.0" y="95.3" width="0.9" height="0.9" fill="#333"/><rect x="398.5" y="80.4" width="0.9" height="0.9" fill="#333"/><rect x="399.6" y="74.8" width="0.9" height="0.9" fill="#333"/><rect x="394.4" y="86.1" width="0.9" height="0.9" fill="#333"/><rect x="400.5" y="77.6" width="0.9" height="0.9" fill="#333"/><rect x="394.8" y="87.4" width="0.9" height="0.9" fill="#333"/><rect x="397.9" y="83.8" width="0.9" height="0.9" fill="#333"/><rect x="397.6" y="92.0" width="0.9" height="0.9" fill="#333"/><rect x="401.6" y="91.9" width="0.9" height="0.9" fill="#333"/><rect x="399.0" y="86.9" width="0.9" height="0.9" fill="#333"/><rect x="400.7" y="93.5" width="0.9" height="0.9" fill="#333"/><rect x="397.6" y="87.7" width="0.9" height="0.9" fill="#333"/><rect x="399.5" y="86.4" width="0.9" height="0.9" fill="#333"/><rect x="400.0" y="80.0" width="0.9" height="0.9" fill="#333"/>
<g filter="url(#bl2)"><ellipse cx="398.8" cy="86.5" rx="2.2" ry="3.6" fill="#222" transform="rotate(20 398.8 86.5)"/></g>
<g filter="url(#bl2)"><circle cx="389.8" cy="92.8" r="4.5" fill="#000"/></g>
<rect x="388.2" y="88.2" width="0.9" height="0.9" fill="#222"/><rect x="393.5" y="94.4" width="0.9" height="0.9" fill="#222"/><rect x="386.2" y="97.0" width="0.9" height="0.9" fill="#222"/><rect x="392.5" y="87.1" width="0.9" height="0.9" fill="#222"/><rect x="395.3" y="95.2" width="0.9" height="0.9" fill="#222"/><rect x="396.0" y="89.1" width="0.9" height="0.9" fill="#222"/><rect x="391.4" y="94.1" width="0.9" height="0.9" fill="#222"/><rect x="390.4" y="93.3" width="0.9" height="0.9" fill="#222"/><rect x="393.0" y="88.3" width="0.9" height="0.9" fill="#222"/><rect x="386.1" y="88.6" width="0.9" height="0.9" fill="#222"/><rect x="388.1" y="91.0" width="0.9" height="0.9" fill="#222"/><rect x="390.9" y="93.6" width="0.9" height="0.9" fill="#222"/><rect x="389.9" y="90.8" width="0.9" height="0.9" fill="#222"/><rect x="388.5" y="95.7" width="0.9" height="0.9" fill="#222"/><rect x="392.1" y="93.1" width="0.9" height="0.9" fill="#222"/><rect x="388.8" y="97.5" width="0.9" height="0.9" fill="#222"/><rect x="388.0" y="94.7" width="0.9" height="0.9" fill="#222"/><rect x="393.3" y="92.0" width="0.9" height="0.9" fill="#222"/><rect x="392.3" y="89.5" width="0.9" height="0.9" fill="#222"/><rect x="392.8" y="93.4" width="0.9" height="0.9" fill="#222"/><rect x="385.0" y="94.8" width="0.9" height="0.9" fill="#222"/><rect x="387.1" y="96.6" width="0.9" height="0.9" fill="#222"/><rect x="387.8" y="92.3" width="0.9" height="0.9" fill="#222"/><rect x="390.6" y="91.8" width="0.9" height="0.9" fill="#222"/><rect x="390.6" y="91.1" width="0.9" height="0.9" fill="#222"/><rect x="391.8" y="92.8" width="0.9" height="0.9" fill="#222"/><rect x="390.4" y="84.5" width="0.9" height="0.9" fill="#222"/><rect x="393.3" y="92.9" width="0.9" height="0.9" fill="#222"/><rect x="384.5" y="93.1" width="0.9" height="0.9" fill="#222"/><rect x="391.2" y="96.0" width="0.9" height="0.9" fill="#222"/><rect x="386.6" y="97.4" width="0.9" height="0.9" fill="#222"/><rect x="389.3" y="100.0" width="0.9" height="0.9" fill="#222"/><rect x="389.4" y="94.8" width="0.9" height="0.9" fill="#222"/><rect x="388.7" y="89.5" width="0.9" height="0.9" fill="#222"/><rect x="393.1" y="95.5" width="0.9" height="0.9" fill="#222"/><rect x="394.4" y="95.4" width="0.9" height="0.9" fill="#222"/><rect x="388.1" y="87.8" width="0.9" height="0.9" fill="#222"/><rect x="387.8" y="90.8" width="0.9" height="0.9" fill="#222"/><rect x="387.4" y="94.5" width="0.9" height="0.9" fill="#222"/><rect x="390.8" y="92.0" width="0.9" height="0.9" fill="#222"/><rect x="390.3" y="92.4" width="0.9" height="0.9" fill="#222"/><rect x="390.4" y="95.1" width="0.9" height="0.9" fill="#222"/><rect x="392.7" y="90.7" width="0.9" height="0.9" fill="#222"/><rect x="385.3" y="97.1" width="0.9" height="0.9" fill="#222"/><rect x="390.1" y="96.1" width="0.9" height="0.9" fill="#222"/><rect x="384.9" y="91.8" width="0.9" height="0.9" fill="#222"/><rect x="389.9" y="88.5" width="0.9" height="0.9" fill="#222"/><rect x="388.3" y="95.0" width="0.9" height="0.9" fill="#222"/><rect x="393.0" y="97.6" width="0.9" height="0.9" fill="#222"/><rect x="387.2" y="88.6" width="0.9" height="0.9" fill="#222"/><rect x="391.4" y="95.6" width="0.9" height="0.9" fill="#222"/><rect x="390.4" y="88.9" width="0.9" height="0.9" fill="#222"/><rect x="392.1" y="95.2" width="0.9" height="0.9" fill="#222"/><rect x="391.5" y="91.3" width="0.9" height="0.9" fill="#222"/><rect x="390.7" y="95.2" width="0.9" height="0.9" fill="#222"/><rect x="388.1" y="87.3" width="0.9" height="0.9" fill="#222"/><rect x="390.8" y="94.2" width="0.9" height="0.9" fill="#222"/><rect x="389.8" y="95.5" width="0.9" height="0.9" fill="#222"/><rect x="388.0" y="92.6" width="0.9" height="0.9" fill="#222"/><rect x="388.9" y="94.5" width="0.9" height="0.9" fill="#222"/>
<rect x="392.8" y="98.6" width="0.9" height="0.9" fill="#444"/><rect x="394.2" y="100.0" width="0.9" height="0.9" fill="#444"/><rect x="390.4" y="99.3" width="0.9" height="0.9" fill="#444"/><rect x="393.3" y="98.7" width="0.9" height="0.9" fill="#444"/><rect x="387.7" y="97.9" width="0.9" height="0.9" fill="#444"/><rect x="389.4" y="99.9" width="0.9" height="0.9" fill="#444"/><rect x="389.6" y="99.1" width="0.9" height="0.9" fill="#444"/><rect x="387.4" y="98.9" width="0.9" height="0.9" fill="#444"/><rect x="383.7" y="99.6" width="0.9" height="0.9" fill="#444"/><rect x="386.8" y="97.9" width="0.9" height="0.9" fill="#444"/><rect x="385.7" y="98.1" width="0.9" height="0.9" fill="#444"/><rect x="390.6" y="99.6" width="0.9" height="0.9" fill="#444"/><rect x="383.9" y="99.5" width="0.9" height="0.9" fill="#444"/><rect x="390.7" y="98.3" width="0.9" height="0.9" fill="#444"/><rect x="383.5" y="98.2" width="0.9" height="0.9" fill="#444"/><rect x="386.1" y="99.1" width="0.9" height="0.9" fill="#444"/><rect x="386.9" y="97.2" width="0.9" height="0.9" fill="#444"/><rect x="388.7" y="97.6" width="0.9" height="0.9" fill="#444"/><rect x="390.7" y="97.8" width="0.9" height="0.9" fill="#444"/><rect x="385.9" y="98.1" width="0.9" height="0.9" fill="#444"/><rect x="386.4" y="99.8" width="0.9" height="0.9" fill="#444"/><rect x="390.6" y="99.3" width="0.9" height="0.9" fill="#444"/><rect x="389.0" y="97.6" width="0.9" height="0.9" fill="#444"/><rect x="386.4" y="98.4" width="0.9" height="0.9" fill="#444"/><rect x="385.1" y="99.2" width="0.9" height="0.9" fill="#444"/>
<path d="M382.1,42.5V101.1H440.5" fill="none" stroke="#444" stroke-width="1.1"/>
<text transform="translate(417.50,56.00) scale(0.88,1)" font-size="7.60" text-anchor="middle" style="stroke:none" fill="#222">49%</text>
<text x="382.9" y="50.2" font-size="3.6" fill="#444" style="stroke:none">0.17%</text>
<text x="440.0" y="97.8" font-size="3.6" text-anchor="end" fill="#444" style="stroke:none">7.73%</text>
<text x="382.9" y="100.2" font-size="3.6" fill="#444" style="stroke:none">81.0%</text>
<text x="380.8" y="51.1" font-size="3.3" text-anchor="end" fill="#777" style="stroke:none;font-style:italic">10<tspan font-size="2.4" dy="-1.1">1</tspan></text>
<text x="380.8" y="64.8" font-size="3.3" text-anchor="end" fill="#777" style="stroke:none;font-style:italic">10<tspan font-size="2.4" dy="-1.1">1</tspan></text>
<text x="380.8" y="78.3" font-size="3.3" text-anchor="end" fill="#777" style="stroke:none;font-style:italic">10<tspan font-size="2.4" dy="-1.1">1</tspan></text>
<text x="380.8" y="91.8" font-size="3.3" text-anchor="end" fill="#777" style="stroke:none;font-style:italic">10<tspan font-size="2.4" dy="-1.1">1</tspan></text>
<text x="380.8" y="97.4" font-size="3.3" text-anchor="end" fill="#777" style="stroke:none;font-style:italic">10<tspan font-size="2.4" dy="-1.1">1</tspan></text>
<text x="380.8" y="101.3" font-size="3.3" text-anchor="end" fill="#777" style="stroke:none;font-style:italic">10<tspan font-size="2.4" dy="-1.1">1</tspan></text>
<text x="385.6" y="108.4" font-size="3.3" text-anchor="middle" fill="#777" style="stroke:none;font-style:italic">10<tspan font-size="2.4" dy="-1.1">1</tspan></text>
<text x="395.0" y="108.4" font-size="3.3" text-anchor="middle" fill="#777" style="stroke:none;font-style:italic">10<tspan font-size="2.4" dy="-1.1">1</tspan></text>
<text x="408.7" y="108.4" font-size="3.3" text-anchor="middle" fill="#777" style="stroke:none;font-style:italic">10<tspan font-size="2.4" dy="-1.1">1</tspan></text>
<text x="422.4" y="108.4" font-size="3.3" text-anchor="middle" fill="#777" style="stroke:none;font-style:italic">10<tspan font-size="2.4" dy="-1.1">1</tspan></text>
<text x="436.1" y="108.4" font-size="3.3" text-anchor="middle" fill="#777" style="stroke:none;font-style:italic">10<tspan font-size="2.4" dy="-1.1">1</tspan></text>
<text transform="translate(456.00,34.70) scale(0.88,1)" font-size="10.00" text-anchor="start">P-3</text>
<line x1="463.3" y1="42.9" x2="463.3" y2="101.1" stroke="#8c8c8c" stroke-width="1.2"/>
<line x1="451.6" y1="88.1" x2="511.0" y2="88.1" stroke="#8c8c8c" stroke-width="1.2"/>
<path d="M451.6,42.9H511.0V101.1" fill="none" stroke="#8c8c8c" stroke-width="1.1"/>
<rect x="468.4" y="73.2" width="0.9" height="0.9" fill="#9a9a9a"/><rect x="470.9" y="64.0" width="0.9" height="0.9" fill="#9a9a9a"/><rect x="466.8" y="87.8" width="0.9" height="0.9" fill="#9a9a9a"/><rect x="471.3" y="72.2" width="0.9" height="0.9" fill="#9a9a9a"/><rect x="461.5" y="77.2" width="0.9" height="0.9" fill="#9a9a9a"/><rect x="470.8" y="81.5" width="0.9" height="0.9" fill="#9a9a9a"/><rect x="467.2" y="89.0" width="0.9" height="0.9" fill="#9a9a9a"/><rect x="472.3" y="76.6" width="0.9" height="0.9" fill="#9a9a9a"/><rect x="469.2" y="84.5" width="0.9" height="0.9" fill="#9a9a9a"/><rect x="465.7" y="74.5" width="0.9" height="0.9" fill="#9a9a9a"/><rect x="465.3" y="76.5" width="0.9" height="0.9" fill="#9a9a9a"/><rect x="472.5" y="72.0" width="0.9" height="0.9" fill="#9a9a9a"/><rect x="460.4" y="85.2" width="0.9" height="0.9" fill="#9a9a9a"/><rect x="465.9" y="88.5" width="0.9" height="0.9" fill="#9a9a9a"/><rect x="462.7" y="84.3" width="0.9" height="0.9" fill="#9a9a9a"/><rect x="468.7" y="93.5" width="0.9" height="0.9" fill="#9a9a9a"/><rect x="467.3" y="80.1" width="0.9" height="0.9" fill="#9a9a9a"/><rect x="465.7" y="84.9" width="0.9" height="0.9" fill="#9a9a9a"/><rect x="470.8" y="80.0" width="0.9" height="0.9" fill="#9a9a9a"/><rect x="463.4" y="82.2" width="0.9" height="0.9" fill="#9a9a9a"/><rect x="465.8" y="82.2" width="0.9" height="0.9" fill="#9a9a9a"/><rect x="465.2" y="89.4" width="0.9" height="0.9" fill="#9a9a9a"/><rect x="472.4" y="76.5" width="0.9" height="0.9" fill="#9a9a9a"/><rect x="465.1" y="90.4" width="0.9" height="0.9" fill="#9a9a9a"/><rect x="466.1" y="80.9" width="0.9" height="0.9" fill="#9a9a9a"/><rect x="468.4" y="87.8" width="0.9" height="0.9" fill="#9a9a9a"/><rect x="472.9" y="70.3" width="0.9" height="0.9" fill="#9a9a9a"/><rect x="464.8" y="79.0" width="0.9" height="0.9" fill="#9a9a9a"/><rect x="463.3" y="95.6" width="0.9" height="0.9" fill="#9a9a9a"/><rect x="463.7" y="85.2" width="0.9" height="0.9" fill="#9a9a9a"/><rect x="474.4" y="68.2" width="0.9" height="0.9" fill="#9a9a9a"/><rect x="466.1" y="78.9" width="0.9" height="0.9" fill="#9a9a9a"/><rect x="467.7" y="77.0" width="0.9" height="0.9" fill="#9a9a9a"/><rect x="471.6" y="73.6" width="0.9" height="0.9" fill="#9a9a9a"/><rect x="471.2" y="74.7" width="0.9" height="0.9" fill="#9a9a9a"/><rect x="465.9" y="81.5" width="0.9" height="0.9" fill="#9a9a9a"/><rect x="466.4" y="79.9" width="0.9" height="0.9" fill="#9a9a9a"/><rect x="472.3" y="80.1" width="0.9" height="0.9" fill="#9a9a9a"/><rect x="466.4" y="83.2" width="0.9" height="0.9" fill="#9a9a9a"/><rect x="465.0" y="85.3" width="0.9" height="0.9" fill="#9a9a9a"/><rect x="463.9" y="81.4" width="0.9" height="0.9" fill="#9a9a9a"/><rect x="469.2" y="72.8" width="0.9" height="0.9" fill="#9a9a9a"/><rect x="474.9" y="74.5" width="0.9" height="0.9" fill="#9a9a9a"/><rect x="471.2" y="84.4" width="0.9" height="0.9" fill="#9a9a9a"/><rect x="474.4" y="73.4" width="0.9" height="0.9" fill="#9a9a9a"/><rect x="467.9" y="89.1" width="0.9" height="0.9" fill="#9a9a9a"/><rect x="468.5" y="77.5" width="0.9" height="0.9" fill="#9a9a9a"/><rect x="474.1" y="81.9" width="0.9" height="0.9" fill="#9a9a9a"/><rect x="469.0" y="74.0" width="0.9" height="0.9" fill="#9a9a9a"/><rect x="468.8" y="81.1" width="0.9" height="0.9" fill="#9a9a9a"/><rect x="464.8" y="90.0" width="0.9" height="0.9" fill="#9a9a9a"/><rect x="466.6" y="81.3" width="0.9" height="0.9" fill="#9a9a9a"/><rect x="474.5" y="73.2" width="0.9" height="0.9" fill="#9a9a9a"/><rect x="466.6" y="91.5" width="0.9" height="0.9" fill="#9a9a9a"/><rect x="467.8" y="70.1" width="0.9" height="0.9" fill="#9a9a9a"/><rect x="470.4" y="65.4" width="0.9" height="0.9" fill="#9a9a9a"/><rect x="474.1" y="66.7" width="0.9" height="0.9" fill="#9a9a9a"/><rect x="466.2" y="88.5" width="0.9" height="0.9" fill="#9a9a9a"/><rect x="465.3" y="75.0" width="0.9" height="0.9" fill="#9a9a9a"/><rect x="461.9" y="81.9" width="0.9" height="0.9" fill="#9a9a9a"/><rect x="467.3" y="76.1" width="0.9" height="0.9" fill="#9a9a9a"/><rect x="467.3" y="82.1" width="0.9" height="0.9" fill="#9a9a9a"/><rect x="467.6" y="78.3" width="0.9" height="0.9" fill="#9a9a9a"/><rect x="466.9" y="78.8" width="0.9" height="0.9" fill="#9a9a9a"/><rect x="465.5" y="77.9" width="0.9" height="0.9" fill="#9a9a9a"/><rect x="465.0" y="73.6" width="0.9" height="0.9" fill="#9a9a9a"/><rect x="473.0" y="80.7" width="0.9" height="0.9" fill="#9a9a9a"/><rect x="464.8" y="79.1" width="0.9" height="0.9" fill="#9a9a9a"/><rect x="470.1" y="66.8" width="0.9" height="0.9" fill="#9a9a9a"/><rect x="464.9" y="82.7" width="0.9" height="0.9" fill="#9a9a9a"/><rect x="469.7" y="78.2" width="0.9" height="0.9" fill="#9a9a9a"/><rect x="468.8" y="70.6" width="0.9" height="0.9" fill="#9a9a9a"/><rect x="471.2" y="81.3" width="0.9" height="0.9" fill="#9a9a9a"/><rect x="471.2" y="63.8" width="0.9" height="0.9" fill="#9a9a9a"/><rect x="459.2" y="93.6" width="0.9" height="0.9" fill="#9a9a9a"/><rect x="465.9" y="77.0" width="0.9" height="0.9" fill="#9a9a9a"/><rect x="469.4" y="77.7" width="0.9" height="0.9" fill="#9a9a9a"/><rect x="471.1" y="69.2" width="0.9" height="0.9" fill="#9a9a9a"/><rect x="461.9" y="88.7" width="0.9" height="0.9" fill="#9a9a9a"/><rect x="464.6" y="83.4" width="0.9" height="0.9" fill="#9a9a9a"/><rect x="465.0" y="75.2" width="0.9" height="0.9" fill="#9a9a9a"/><rect x="466.6" y="85.5" width="0.9" height="0.9" fill="#9a9a9a"/><rect x="464.3" y="81.4" width="0.9" height="0.9" fill="#9a9a9a"/><rect x="471.2" y="74.0" width="0.9" height="0.9" fill="#9a9a9a"/><rect x="471.8" y="73.0" width="0.9" height="0.9" fill="#9a9a9a"/><rect x="466.6" y="77.7" width="0.9" height="0.9" fill="#9a9a9a"/><rect x="462.1" y="75.4" width="0.9" height="0.9" fill="#9a9a9a"/><rect x="469.6" y="68.0" width="0.9" height="0.9" fill="#9a9a9a"/><rect x="465.6" y="83.1" width="0.9" height="0.9" fill="#9a9a9a"/><rect x="464.5" y="86.5" width="0.9" height="0.9" fill="#9a9a9a"/><rect x="468.8" y="68.8" width="0.9" height="0.9" fill="#9a9a9a"/><rect x="471.3" y="82.5" width="0.9" height="0.9" fill="#9a9a9a"/><rect x="472.8" y="73.9" width="0.9" height="0.9" fill="#9a9a9a"/><rect x="469.8" y="80.9" width="0.9" height="0.9" fill="#9a9a9a"/><rect x="470.0" y="79.2" width="0.9" height="0.9" fill="#9a9a9a"/><rect x="473.0" y="75.3" width="0.9" height="0.9" fill="#9a9a9a"/><rect x="469.7" y="67.9" width="0.9" height="0.9" fill="#9a9a9a"/><rect x="473.1" y="74.7" width="0.9" height="0.9" fill="#9a9a9a"/><rect x="468.2" y="71.4" width="0.9" height="0.9" fill="#9a9a9a"/><rect x="470.5" y="69.7" width="0.9" height="0.9" fill="#9a9a9a"/><rect x="469.3" y="74.1" width="0.9" height="0.9" fill="#9a9a9a"/><rect x="469.5" y="71.7" width="0.9" height="0.9" fill="#9a9a9a"/><rect x="469.7" y="75.5" width="0.9" height="0.9" fill="#9a9a9a"/><rect x="468.2" y="80.2" width="0.9" height="0.9" fill="#9a9a9a"/><rect x="474.6" y="64.4" width="0.9" height="0.9" fill="#9a9a9a"/><rect x="469.1" y="72.8" width="0.9" height="0.9" fill="#9a9a9a"/><rect x="474.2" y="68.8" width="0.9" height="0.9" fill="#9a9a9a"/><rect x="467.5" y="75.9" width="0.9" height="0.9" fill="#9a9a9a"/><rect x="465.3" y="84.7" width="0.9" height="0.9" fill="#9a9a9a"/><rect x="465.1" y="84.4" width="0.9" height="0.9" fill="#9a9a9a"/><rect x="469.3" y="65.3" width="0.9" height="0.9" fill="#9a9a9a"/><rect x="470.4" y="82.5" width="0.9" height="0.9" fill="#9a9a9a"/><rect x="469.4" y="79.7" width="0.9" height="0.9" fill="#9a9a9a"/><rect x="472.6" y="70.9" width="0.9" height="0.9" fill="#9a9a9a"/><rect x="472.1" y="75.8" width="0.9" height="0.9" fill="#9a9a9a"/><rect x="470.7" y="80.0" width="0.9" height="0.9" fill="#9a9a9a"/><rect x="466.8" y="68.3" width="0.9" height="0.9" fill="#9a9a9a"/><rect x="471.6" y="78.6" width="0.9" height="0.9" fill="#9a9a9a"/><rect x="467.0" y="79.7" width="0.9" height="0.9" fill="#9a9a9a"/><rect x="468.8" y="74.5" width="0.9" height="0.9" fill="#9a9a9a"/><rect x="468.4" y="79.5" width="0.9" height="0.9" fill="#9a9a9a"/><rect x="472.1" y="80.2" width="0.9" height="0.9" fill="#9a9a9a"/><rect x="468.8" y="92.0" width="0.9" height="0.9" fill="#9a9a9a"/><rect x="470.1" y="87.0" width="0.9" height="0.9" fill="#9a9a9a"/><rect x="468.5" y="79.5" width="0.9" height="0.9" fill="#9a9a9a"/><rect x="469.9" y="73.6" width="0.9" height="0.9" fill="#9a9a9a"/><rect x="469.9" y="74.2" width="0.9" height="0.9" fill="#9a9a9a"/><rect x="471.2" y="83.5" width="0.9" height="0.9" fill="#9a9a9a"/><rect x="472.0" y="65.5" width="0.9" height="0.9" fill="#9a9a9a"/><rect x="469.4" y="75.7" width="0.9" height="0.9" fill="#9a9a9a"/><rect x="468.6" y="70.1" width="0.9" height="0.9" fill="#9a9a9a"/><rect x="461.6" y="80.2" width="0.9" height="0.9" fill="#9a9a9a"/><rect x="462.1" y="95.4" width="0.9" height="0.9" fill="#9a9a9a"/><rect x="468.8" y="77.5" width="0.9" height="0.9" fill="#9a9a9a"/><rect x="471.7" y="80.7" width="0.9" height="0.9" fill="#9a9a9a"/><rect x="469.8" y="76.2" width="0.9" height="0.9" fill="#9a9a9a"/><rect x="463.4" y="87.8" width="0.9" height="0.9" fill="#9a9a9a"/><rect x="466.8" y="90.7" width="0.9" height="0.9" fill="#9a9a9a"/><rect x="467.6" y="78.4" width="0.9" height="0.9" fill="#9a9a9a"/><rect x="464.0" y="84.1" width="0.9" height="0.9" fill="#9a9a9a"/><rect x="463.7" y="81.0" width="0.9" height="0.9" fill="#9a9a9a"/><rect x="467.8" y="88.8" width="0.9" height="0.9" fill="#9a9a9a"/><rect x="463.6" y="84.8" width="0.9" height="0.9" fill="#9a9a9a"/><rect x="468.6" y="72.9" width="0.9" height="0.9" fill="#9a9a9a"/><rect x="462.5" y="84.9" width="0.9" height="0.9" fill="#9a9a9a"/><rect x="474.0" y="76.1" width="0.9" height="0.9" fill="#9a9a9a"/><rect x="467.5" y="75.6" width="0.9" height="0.9" fill="#9a9a9a"/><rect x="472.2" y="87.3" width="0.9" height="0.9" fill="#9a9a9a"/><rect x="471.5" y="66.2" width="0.9" height="0.9" fill="#9a9a9a"/><rect x="464.0" y="85.7" width="0.9" height="0.9" fill="#9a9a9a"/><rect x="473.7" y="78.4" width="0.9" height="0.9" fill="#9a9a9a"/><rect x="468.0" y="74.5" width="0.9" height="0.9" fill="#9a9a9a"/><rect x="461.7" y="82.8" width="0.9" height="0.9" fill="#9a9a9a"/><rect x="463.3" y="84.5" width="0.9" height="0.9" fill="#9a9a9a"/><rect x="467.4" y="68.6" width="0.9" height="0.9" fill="#9a9a9a"/><rect x="471.0" y="73.7" width="0.9" height="0.9" fill="#9a9a9a"/><rect x="470.4" y="79.3" width="0.9" height="0.9" fill="#9a9a9a"/><rect x="464.1" y="81.5" width="0.9" height="0.9" fill="#9a9a9a"/><rect x="475.1" y="66.7" width="0.9" height="0.9" fill="#9a9a9a"/><rect x="471.8" y="83.4" width="0.9" height="0.9" fill="#9a9a9a"/><rect x="474.8" y="66.9" width="0.9" height="0.9" fill="#9a9a9a"/><rect x="467.6" y="75.6" width="0.9" height="0.9" fill="#9a9a9a"/><rect x="474.6" y="69.9" width="0.9" height="0.9" fill="#9a9a9a"/><rect x="471.2" y="64.4" width="0.9" height="0.9" fill="#9a9a9a"/><rect x="467.1" y="80.6" width="0.9" height="0.9" fill="#9a9a9a"/><rect x="465.8" y="73.1" width="0.9" height="0.9" fill="#9a9a9a"/><rect x="465.9" y="89.4" width="0.9" height="0.9" fill="#9a9a9a"/><rect x="470.9" y="77.1" width="0.9" height="0.9" fill="#9a9a9a"/><rect x="467.9" y="71.3" width="0.9" height="0.9" fill="#9a9a9a"/><rect x="466.5" y="78.9" width="0.9" height="0.9" fill="#9a9a9a"/>
<rect x="464.8" y="88.0" width="0.9" height="0.9" fill="#666"/><rect x="469.6" y="76.6" width="0.9" height="0.9" fill="#666"/><rect x="468.6" y="86.0" width="0.9" height="0.9" fill="#666"/><rect x="468.8" y="78.0" width="0.9" height="0.9" fill="#666"/><rect x="465.9" y="75.5" width="0.9" height="0.9" fill="#666"/><rect x="470.3" y="78.2" width="0.9" height="0.9" fill="#666"/><rect x="465.0" y="81.0" width="0.9" height="0.9" fill="#666"/><rect x="467.0" y="83.7" width="0.9" height="0.9" fill="#666"/><rect x="466.4" y="87.4" width="0.9" height="0.9" fill="#666"/><rect x="464.6" y="84.6" width="0.9" height="0.9" fill="#666"/><rect x="464.8" y="83.3" width="0.9" height="0.9" fill="#666"/><rect x="467.4" y="82.1" width="0.9" height="0.9" fill="#666"/><rect x="469.2" y="81.5" width="0.9" height="0.9" fill="#666"/><rect x="468.0" y="85.4" width="0.9" height="0.9" fill="#666"/><rect x="468.6" y="78.7" width="0.9" height="0.9" fill="#666"/><rect x="467.0" y="78.3" width="0.9" height="0.9" fill="#666"/><rect x="467.2" y="80.8" width="0.9" height="0.9" fill="#666"/><rect x="471.6" y="85.5" width="0.9" height="0.9" fill="#666"/><rect x="470.1" y="77.8" width="0.9" height="0.9" fill="#666"/><rect x="466.8" y="79.2" width="0.9" height="0.9" fill="#666"/><rect x="469.4" y="76.7" width="0.9" height="0.9" fill="#666"/><rect x="471.1" y="79.6" width="0.9" height="0.9" fill="#666"/><rect x="472.9" y="71.8" width="0.9" height="0.9" fill="#666"/><rect x="467.1" y="82.2" width="0.9" height="0.9" fill="#666"/><rect x="466.9" y="83.7" width="0.9" height="0.9" fill="#666"/><rect x="467.7" y="81.9" width="0.9" height="0.9" fill="#666"/><rect x="465.4" y="76.8" width="0.9" height="0.9" fill="#666"/><rect x="462.6" y="82.2" width="0.9" height="0.9" fill="#666"/><rect x="468.3" y="80.4" width="0.9" height="0.9" fill="#666"/><rect x="467.0" y="78.0" width="0.9" height="0.9" fill="#666"/><rect x="467.9" y="89.5" width="0.9" height="0.9" fill="#666"/><rect x="465.4" y="86.4" width="0.9" height="0.9" fill="#666"/><rect x="467.8" y="71.8" width="0.9" height="0.9" fill="#666"/><rect x="468.0" y="77.0" width="0.9" height="0.9" fill="#666"/><rect x="466.3" y="81.5" width="0.9" height="0.9" fill="#666"/><rect x="473.6" y="80.1" width="0.9" height="0.9" fill="#666"/><rect x="467.2" y="82.2" width="0.9" height="0.9" fill="#666"/><rect x="466.0" y="84.9" width="0.9" height="0.9" fill="#666"/><rect x="472.4" y="76.8" width="0.9" height="0.9" fill="#666"/><rect x="468.2" y="80.0" width="0.9" height="0.9" fill="#666"/><rect x="470.5" y="74.7" width="0.9" height="0.9" fill="#666"/><rect x="468.1" y="70.1" width="0.9" height="0.9" fill="#666"/><rect x="468.1" y="82.1" width="0.9" height="0.9" fill="#666"/><rect x="471.3" y="71.0" width="0.9" height="0.9" fill="#666"/><rect x="468.0" y="77.6" width="0.9" height="0.9" fill="#666"/><rect x="466.5" y="76.3" width="0.9" height="0.9" fill="#666"/><rect x="467.8" y="83.7" width="0.9" height="0.9" fill="#666"/><rect x="466.7" y="83.2" width="0.9" height="0.9" fill="#666"/><rect x="466.4" y="80.9" width="0.9" height="0.9" fill="#666"/><rect x="466.7" y="83.4" width="0.9" height="0.9" fill="#666"/><rect x="467.6" y="80.4" width="0.9" height="0.9" fill="#666"/><rect x="468.3" y="78.2" width="0.9" height="0.9" fill="#666"/><rect x="470.5" y="84.6" width="0.9" height="0.9" fill="#666"/><rect x="464.7" y="91.0" width="0.9" height="0.9" fill="#666"/><rect x="472.3" y="75.3" width="0.9" height="0.9" fill="#666"/><rect x="467.4" y="85.0" width="0.9" height="0.9" fill="#666"/><rect x="468.7" y="87.7" width="0.9" height="0.9" fill="#666"/><rect x="470.6" y="76.5" width="0.9" height="0.9" fill="#666"/><rect x="465.6" y="81.6" width="0.9" height="0.9" fill="#666"/><rect x="469.9" y="77.0" width="0.9" height="0.9" fill="#666"/>
<rect x="468.1" y="90.4" width="0.9" height="0.9" fill="#aaa"/><rect x="470.3" y="91.5" width="0.9" height="0.9" fill="#aaa"/><rect x="468.6" y="89.3" width="0.9" height="0.9" fill="#aaa"/><rect x="476.2" y="93.2" width="0.9" height="0.9" fill="#aaa"/><rect x="469.5" y="92.4" width="0.9" height="0.9" fill="#aaa"/><rect x="472.2" y="91.9" width="0.9" height="0.9" fill="#aaa"/><rect x="472.4" y="89.9" width="0.9" height="0.9" fill="#aaa"/><rect x="472.9" y="92.4" width="0.9" height="0.9" fill="#aaa"/><rect x="465.5" y="93.8" width="0.9" height="0.9" fill="#aaa"/><rect x="480.4" y="93.6" width="0.9" height="0.9" fill="#aaa"/><rect x="479.9" y="92.0" width="0.9" height="0.9" fill="#aaa"/><rect x="468.3" y="90.2" width="0.9" height="0.9" fill="#aaa"/><rect x="465.9" y="91.2" width="0.9" height="0.9" fill="#aaa"/><rect x="469.8" y="91.9" width="0.9" height="0.9" fill="#aaa"/><rect x="459.9" y="94.2" width="0.9" height="0.9" fill="#aaa"/><rect x="481.4" y="91.0" width="0.9" height="0.9" fill="#aaa"/><rect x="473.4" y="91.7" width="0.9" height="0.9" fill="#aaa"/><rect x="471.4" y="90.7" width="0.9" height="0.9" fill="#aaa"/><rect x="469.4" y="89.8" width="0.9" height="0.9" fill="#aaa"/><rect x="470.9" y="91.0" width="0.9" height="0.9" fill="#aaa"/><rect x="471.6" y="89.8" width="0.9" height="0.9" fill="#aaa"/><rect x="470.2" y="91.1" width="0.9" height="0.9" fill="#aaa"/><rect x="473.0" y="89.5" width="0.9" height="0.9" fill="#aaa"/><rect x="472.1" y="92.4" width="0.9" height="0.9" fill="#aaa"/><rect x="473.0" y="90.5" width="0.9" height="0.9" fill="#aaa"/><rect x="467.5" y="90.7" width="0.9" height="0.9" fill="#aaa"/><rect x="473.6" y="93.2" width="0.9" height="0.9" fill="#aaa"/><rect x="469.2" y="90.1" width="0.9" height="0.9" fill="#aaa"/><rect x="471.9" y="91.3" width="0.9" height="0.9" fill="#aaa"/><rect x="465.5" y="90.0" width="0.9" height="0.9" fill="#aaa"/><rect x="469.5" y="91.9" width="0.9" height="0.9" fill="#aaa"/><rect x="464.0" y="89.6" width="0.9" height="0.9" fill="#aaa"/><rect x="472.5" y="89.3" width="0.9" height="0.9" fill="#aaa"/><rect x="470.5" y="91.5" width="0.9" height="0.9" fill="#aaa"/><rect x="469.4" y="89.6" width="0.9" height="0.9" fill="#aaa"/>
<rect x="461.4" y="83.0" width="0.9" height="0.9" fill="#aaa"/><rect x="462.0" y="81.5" width="0.9" height="0.9" fill="#aaa"/><rect x="463.1" y="79.0" width="0.9" height="0.9" fill="#aaa"/><rect x="461.2" y="84.0" width="0.9" height="0.9" fill="#aaa"/><rect x="462.9" y="82.2" width="0.9" height="0.9" fill="#aaa"/><rect x="462.3" y="82.3" width="0.9" height="0.9" fill="#aaa"/><rect x="462.6" y="89.2" width="0.9" height="0.9" fill="#aaa"/><rect x="460.9" y="85.3" width="0.9" height="0.9" fill="#aaa"/><rect x="460.1" y="86.9" width="0.9" height="0.9" fill="#aaa"/><rect x="463.3" y="84.1" width="0.9" height="0.9" fill="#aaa"/><rect x="459.8" y="85.2" width="0.9" height="0.9" fill="#aaa"/><rect x="463.2" y="87.3" width="0.9" height="0.9" fill="#aaa"/><rect x="462.7" y="78.5" width="0.9" height="0.9" fill="#aaa"/><rect x="460.5" y="88.3" width="0.9" height="0.9" fill="#aaa"/><rect x="459.7" y="87.4" width="0.9" height="0.9" fill="#aaa"/><rect x="464.3" y="86.3" width="0.9" height="0.9" fill="#aaa"/><rect x="463.2" y="83.0" width="0.9" height="0.9" fill="#aaa"/><rect x="459.7" y="83.7" width="0.9" height="0.9" fill="#aaa"/><rect x="461.2" y="83.9" width="0.9" height="0.9" fill="#aaa"/><rect x="462.5" y="83.6" width="0.9" height="0.9" fill="#aaa"/><rect x="461.8" y="85.3" width="0.9" height="0.9" fill="#aaa"/><rect x="461.5" y="89.5" width="0.9" height="0.9" fill="#aaa"/><rect x="462.2" y="84.3" width="0.9" height="0.9" fill="#aaa"/><rect x="461.2" y="82.1" width="0.9" height="0.9" fill="#aaa"/><rect x="463.5" y="84.5" width="0.9" height="0.9" fill="#aaa"/>
<rect x="456.9" y="91.4" width="0.9" height="0.9" fill="#222"/><rect x="459.4" y="91.9" width="0.9" height="0.9" fill="#222"/><rect x="462.7" y="88.9" width="0.9" height="0.9" fill="#222"/><rect x="461.1" y="94.4" width="0.9" height="0.9" fill="#222"/><rect x="456.6" y="94.0" width="0.9" height="0.9" fill="#222"/><rect x="459.5" y="95.9" width="0.9" height="0.9" fill="#222"/><rect x="458.6" y="95.1" width="0.9" height="0.9" fill="#222"/><rect x="455.3" y="89.2" width="0.9" height="0.9" fill="#222"/><rect x="461.9" y="98.2" width="0.9" height="0.9" fill="#222"/><rect x="459.8" y="91.3" width="0.9" height="0.9" fill="#222"/><rect x="462.7" y="85.0" width="0.9" height="0.9" fill="#222"/><rect x="457.6" y="96.6" width="0.9" height="0.9" fill="#222"/><rect x="461.6" y="89.5" width="0.9" height="0.9" fill="#222"/><rect x="454.7" y="99.9" width="0.9" height="0.9" fill="#222"/><rect x="460.2" y="90.0" width="0.9" height="0.9" fill="#222"/><rect x="459.9" y="97.6" width="0.9" height="0.9" fill="#222"/><rect x="452.8" y="98.5" width="0.9" height="0.9" fill="#222"/><rect x="461.8" y="85.1" width="0.9" height="0.9" fill="#222"/><rect x="461.9" y="86.3" width="0.9" height="0.9" fill="#222"/><rect x="462.9" y="95.5" width="0.9" height="0.9" fill="#222"/><rect x="465.9" y="91.2" width="0.9" height="0.9" fill="#222"/><rect x="459.8" y="98.2" width="0.9" height="0.9" fill="#222"/><rect x="458.1" y="90.8" width="0.9" height="0.9" fill="#222"/><rect x="458.8" y="93.5" width="0.9" height="0.9" fill="#222"/><rect x="456.9" y="95.8" width="0.9" height="0.9" fill="#222"/><rect x="461.3" y="94.1" width="0.9" height="0.9" fill="#222"/><rect x="464.4" y="92.4" width="0.9" height="0.9" fill="#222"/><rect x="463.3" y="91.5" width="0.9" height="0.9" fill="#222"/><rect x="461.8" y="85.7" width="0.9" height="0.9" fill="#222"/><rect x="460.3" y="93.1" width="0.9" height="0.9" fill="#222"/><rect x="458.5" y="91.2" width="0.9" height="0.9" fill="#222"/><rect x="458.9" y="90.8" width="0.9" height="0.9" fill="#222"/><rect x="453.9" y="91.3" width="0.9" height="0.9" fill="#222"/><rect x="458.3" y="91.6" width="0.9" height="0.9" fill="#222"/><rect x="456.9" y="93.2" width="0.9" height="0.9" fill="#222"/><rect x="461.9" y="92.7" width="0.9" height="0.9" fill="#222"/><rect x="458.5" y="99.5" width="0.9" height="0.9" fill="#222"/><rect x="462.4" y="97.7" width="0.9" height="0.9" fill="#222"/><rect x="462.9" y="92.4" width="0.9" height="0.9" fill="#222"/><rect x="459.5" y="98.5" width="0.9" height="0.9" fill="#222"/><rect x="458.3" y="93.3" width="0.9" height="0.9" fill="#222"/><rect x="460.8" y="95.4" width="0.9" height="0.9" fill="#222"/><rect x="459.1" y="97.9" width="0.9" height="0.9" fill="#222"/><rect x="459.3" y="96.8" width="0.9" height="0.9" fill="#222"/><rect x="462.7" y="96.6" width="0.9" height="0.9" fill="#222"/><rect x="461.8" y="88.9" width="0.9" height="0.9" fill="#222"/><rect x="456.3" y="91.2" width="0.9" height="0.9" fill="#222"/><rect x="461.1" y="100.1" width="0.9" height="0.9" fill="#222"/><rect x="456.5" y="95.1" width="0.9" height="0.9" fill="#222"/><rect x="457.5" y="90.7" width="0.9" height="0.9" fill="#222"/><rect x="459.1" y="96.7" width="0.9" height="0.9" fill="#222"/><rect x="460.4" y="98.8" width="0.9" height="0.9" fill="#222"/><rect x="457.1" y="97.5" width="0.9" height="0.9" fill="#222"/><rect x="462.3" y="94.1" width="0.9" height="0.9" fill="#222"/><rect x="461.1" y="91.4" width="0.9" height="0.9" fill="#222"/><rect x="456.9" y="92.1" width="0.9" height="0.9" fill="#222"/><rect x="458.1" y="105.9" width="0.9" height="0.9" fill="#222"/><rect x="458.5" y="100.7" width="0.9" height="0.9" fill="#222"/><rect x="460.3" y="95.1" width="0.9" height="0.9" fill="#222"/><rect x="461.8" y="90.5" width="0.9" height="0.9" fill="#222"/><rect x="462.3" y="95.4" width="0.9" height="0.9" fill="#222"/><rect x="455.7" y="96.3" width="0.9" height="0.9" fill="#222"/><rect x="461.3" y="95.7" width="0.9" height="0.9" fill="#222"/><rect x="464.1" y="92.1" width="0.9" height="0.9" fill="#222"/><rect x="461.2" y="96.9" width="0.9" height="0.9" fill="#222"/><rect x="457.4" y="98.8" width="0.9" height="0.9" fill="#222"/><rect x="455.9" y="88.3" width="0.9" height="0.9" fill="#222"/><rect x="461.2" y="89.2" width="0.9" height="0.9" fill="#222"/><rect x="459.5" y="86.9" width="0.9" height="0.9" fill="#222"/><rect x="460.0" y="89.0" width="0.9" height="0.9" fill="#222"/><rect x="460.7" y="87.4" width="0.9" height="0.9" fill="#222"/><rect x="461.0" y="92.7" width="0.9" height="0.9" fill="#222"/><rect x="460.0" y="93.5" width="0.9" height="0.9" fill="#222"/><rect x="460.2" y="88.3" width="0.9" height="0.9" fill="#222"/><rect x="452.9" y="93.9" width="0.9" height="0.9" fill="#222"/><rect x="457.3" y="91.9" width="0.9" height="0.9" fill="#222"/><rect x="461.0" y="85.5" width="0.9" height="0.9" fill="#222"/><rect x="457.7" y="91.2" width="0.9" height="0.9" fill="#222"/><rect x="456.9" y="95.2" width="0.9" height="0.9" fill="#222"/><rect x="459.4" y="90.4" width="0.9" height="0.9" fill="#222"/><rect x="457.1" y="97.2" width="0.9" height="0.9" fill="#222"/><rect x="458.0" y="96.3" width="0.9" height="0.9" fill="#222"/><rect x="461.0" y="85.8" width="0.9" height="0.9" fill="#222"/><rect x="456.9" y="93.8" width="0.9" height="0.9" fill="#222"/><rect x="460.7" y="97.1" width="0.9" height="0.9" fill="#222"/><rect x="462.0" y="98.1" width="0.9" height="0.9" fill="#222"/><rect x="458.8" y="92.9" width="0.9" height="0.9" fill="#222"/><rect x="461.9" y="92.0" width="0.9" height="0.9" fill="#222"/><rect x="462.7" y="87.1" width="0.9" height="0.9" fill="#222"/><rect x="461.6" y="93.1" width="0.9" height="0.9" fill="#222"/><rect x="454.5" y="97.9" width="0.9" height="0.9" fill="#222"/><rect x="460.6" y="93.9" width="0.9" height="0.9" fill="#222"/><rect x="456.9" y="91.8" width="0.9" height="0.9" fill="#222"/><rect x="463.9" y="90.3" width="0.9" height="0.9" fill="#222"/><rect x="450.4" y="90.2" width="0.9" height="0.9" fill="#222"/><rect x="456.6" y="93.2" width="0.9" height="0.9" fill="#222"/><rect x="458.7" y="90.0" width="0.9" height="0.9" fill="#222"/><rect x="457.5" y="98.2" width="0.9" height="0.9" fill="#222"/><rect x="455.9" y="102.0" width="0.9" height="0.9" fill="#222"/><rect x="458.3" y="89.2" width="0.9" height="0.9" fill="#222"/><rect x="461.9" y="96.2" width="0.9" height="0.9" fill="#222"/><rect x="457.0" y="96.9" width="0.9" height="0.9" fill="#222"/><rect x="454.8" y="89.9" width="0.9" height="0.9" fill="#222"/><rect x="462.8" y="92.7" width="0.9" height="0.9" fill="#222"/><rect x="456.3" y="96.0" width="0.9" height="0.9" fill="#222"/><rect x="462.3" y="93.7" width="0.9" height="0.9" fill="#222"/><rect x="454.9" y="92.3" width="0.9" height="0.9" fill="#222"/><rect x="460.9" y="97.0" width="0.9" height="0.9" fill="#222"/><rect x="464.8" y="92.7" width="0.9" height="0.9" fill="#222"/><rect x="458.5" y="93.6" width="0.9" height="0.9" fill="#222"/><rect x="463.1" y="89.8" width="0.9" height="0.9" fill="#222"/><rect x="463.3" y="82.3" width="0.9" height="0.9" fill="#222"/><rect x="462.0" y="91.0" width="0.9" height="0.9" fill="#222"/><rect x="461.0" y="96.7" width="0.9" height="0.9" fill="#222"/><rect x="456.6" y="93.4" width="0.9" height="0.9" fill="#222"/><rect x="460.4" y="96.3" width="0.9" height="0.9" fill="#222"/><rect x="457.3" y="89.6" width="0.9" height="0.9" fill="#222"/><rect x="454.6" y="104.5" width="0.9" height="0.9" fill="#222"/><rect x="459.3" y="92.9" width="0.9" height="0.9" fill="#222"/><rect x="455.8" y="97.7" width="0.9" height="0.9" fill="#222"/>
<g filter="url(#bl2)"><ellipse cx="459.8" cy="94" rx="3.6" ry="5.4" fill="#000"/></g>
<rect x="455.7" y="99.9" width="0.9" height="0.9" fill="#444"/><rect x="459.1" y="98.9" width="0.9" height="0.9" fill="#444"/><rect x="458.8" y="98.1" width="0.9" height="0.9" fill="#444"/><rect x="456.2" y="98.5" width="0.9" height="0.9" fill="#444"/><rect x="453.8" y="98.9" width="0.9" height="0.9" fill="#444"/><rect x="456.6" y="99.9" width="0.9" height="0.9" fill="#444"/><rect x="448.6" y="98.4" width="0.9" height="0.9" fill="#444"/><rect x="454.7" y="98.6" width="0.9" height="0.9" fill="#444"/><rect x="458.1" y="99.2" width="0.9" height="0.9" fill="#444"/><rect x="457.1" y="98.6" width="0.9" height="0.9" fill="#444"/><rect x="458.2" y="99.2" width="0.9" height="0.9" fill="#444"/><rect x="452.4" y="98.7" width="0.9" height="0.9" fill="#444"/><rect x="453.6" y="98.1" width="0.9" height="0.9" fill="#444"/><rect x="457.4" y="98.9" width="0.9" height="0.9" fill="#444"/><rect x="457.3" y="98.3" width="0.9" height="0.9" fill="#444"/><rect x="456.5" y="98.3" width="0.9" height="0.9" fill="#444"/><rect x="458.0" y="99.4" width="0.9" height="0.9" fill="#444"/><rect x="461.4" y="99.8" width="0.9" height="0.9" fill="#444"/><rect x="455.0" y="98.6" width="0.9" height="0.9" fill="#444"/><rect x="454.7" y="99.1" width="0.9" height="0.9" fill="#444"/>
<path d="M451.6,42.9V101.1H511.0" fill="none" stroke="#444" stroke-width="1.1"/>
<text transform="translate(484.30,56.00) scale(0.88,1)" font-size="7.60" text-anchor="middle" style="stroke:none" fill="#222">82%</text>
<text x="452.4" y="50.2" font-size="3.6" fill="#444" style="stroke:none">1.18%</text>
<text x="510.5" y="97.8" font-size="3.6" text-anchor="end" fill="#444" style="stroke:none">0.69%</text>
<text x="452.4" y="100.2" font-size="3.6" fill="#444" style="stroke:none">84.4%</text>
<text x="450.3" y="51.1" font-size="3.3" text-anchor="end" fill="#777" style="stroke:none;font-style:italic">10<tspan font-size="2.4" dy="-1.1">1</tspan></text>
<text x="450.3" y="64.8" font-size="3.3" text-anchor="end" fill="#777" style="stroke:none;font-style:italic">10<tspan font-size="2.4" dy="-1.1">1</tspan></text>
<text x="450.3" y="78.3" font-size="3.3" text-anchor="end" fill="#777" style="stroke:none;font-style:italic">10<tspan font-size="2.4" dy="-1.1">1</tspan></text>
<text x="450.3" y="91.8" font-size="3.3" text-anchor="end" fill="#777" style="stroke:none;font-style:italic">10<tspan font-size="2.4" dy="-1.1">1</tspan></text>
<text x="450.3" y="97.4" font-size="3.3" text-anchor="end" fill="#777" style="stroke:none;font-style:italic">10<tspan font-size="2.4" dy="-1.1">1</tspan></text>
<text x="450.3" y="101.3" font-size="3.3" text-anchor="end" fill="#777" style="stroke:none;font-style:italic">10<tspan font-size="2.4" dy="-1.1">1</tspan></text>
<text x="455.1" y="108.4" font-size="3.3" text-anchor="middle" fill="#777" style="stroke:none;font-style:italic">10<tspan font-size="2.4" dy="-1.1">1</tspan></text>
<text x="464.5" y="108.4" font-size="3.3" text-anchor="middle" fill="#777" style="stroke:none;font-style:italic">10<tspan font-size="2.4" dy="-1.1">1</tspan></text>
<text x="478.2" y="108.4" font-size="3.3" text-anchor="middle" fill="#777" style="stroke:none;font-style:italic">10<tspan font-size="2.4" dy="-1.1">1</tspan></text>
<text x="491.9" y="108.4" font-size="3.3" text-anchor="middle" fill="#777" style="stroke:none;font-style:italic">10<tspan font-size="2.4" dy="-1.1">1</tspan></text>
<text x="505.6" y="108.4" font-size="3.3" text-anchor="middle" fill="#777" style="stroke:none;font-style:italic">10<tspan font-size="2.4" dy="-1.1">1</tspan></text>
<line x1="297.8" y1="84.4" x2="297.8" y2="48" stroke="#444" stroke-width="1.5"/>
<path d="M294.6,51.6 L297.8,46.6 L301,51.6" fill="none" stroke="#111" stroke-width="1.5"/>
<text transform="translate(299.90,97.10) rotate(-90) scale(0.88,1)" font-size="8.30" text-anchor="middle" style="stroke-width:0.1px">KKO</text>
<text transform="translate(311.50,121.10) scale(0.9,1)" font-size="8.50" text-anchor="start" style="stroke-width:0.1px">CD19</text>
<line x1="339.8" y1="118.8" x2="505" y2="118.8" stroke="#3a3a3a" stroke-width="1.7"/>
<path d="M501.8,115.9 L506.8,118.8 L501.8,121.7" fill="none" stroke="#111" stroke-width="1.7"/>
<g stroke="#111" stroke-width="1.3" fill="none">
<line x1="54.9" y1="176.5" x2="54.9" y2="269.3"/>
<line x1="54.4" y1="269.3" x2="197.5" y2="269.3"/>
<line x1="51.4" y1="269.30" x2="54.9" y2="269.30"/>
<line x1="51.4" y1="251.46" x2="54.9" y2="251.46"/>
<line x1="51.4" y1="233.62" x2="54.9" y2="233.62"/>
<line x1="51.4" y1="215.78" x2="54.9" y2="215.78"/>
<line x1="51.4" y1="197.94" x2="54.9" y2="197.94"/>
<line x1="51.4" y1="180.10" x2="54.9" y2="180.10"/>
<line x1="90.4" y1="269.3" x2="90.4" y2="272"/>
<line x1="161.3" y1="269.3" x2="161.3" y2="272"/>
</g>
<text transform="translate(47.70,272.50) scale(0.88,1)" font-size="8.40" text-anchor="end">0</text>
<text transform="translate(47.70,254.66) scale(0.88,1)" font-size="8.40" text-anchor="end">20</text>
<text transform="translate(47.70,236.82) scale(0.88,1)" font-size="8.40" text-anchor="end">40</text>
<text transform="translate(47.70,218.98) scale(0.88,1)" font-size="8.40" text-anchor="end">60</text>
<text transform="translate(47.70,201.14) scale(0.88,1)" font-size="8.40" text-anchor="end">80</text>
<text transform="translate(47.70,183.30) scale(0.88,1)" font-size="8.40" text-anchor="end">100</text>
<circle cx="85.95" cy="185.1" r="3.05" fill="#808080" stroke="#0a0a0a" stroke-width="1.5"/>
<circle cx="95.8" cy="189.2" r="3.05" fill="#808080" stroke="#0a0a0a" stroke-width="1.5"/>
<circle cx="90.5" cy="207.5" r="3.05" fill="#808080" stroke="#0a0a0a" stroke-width="1.5"/>
<circle cx="90.6" cy="225.5" r="3.05" fill="#808080" stroke="#0a0a0a" stroke-width="1.5"/>
<circle cx="75.7" cy="268.8" r="3.05" fill="#808080" stroke="#0a0a0a" stroke-width="1.5"/>
<circle cx="85.8" cy="269.9" r="3.05" fill="#808080" stroke="#0a0a0a" stroke-width="1.5"/>
<circle cx="95.6" cy="269.4" r="3.05" fill="#808080" stroke="#0a0a0a" stroke-width="1.5"/>
<circle cx="106.0" cy="268.4" r="3.05" fill="#808080" stroke="#0a0a0a" stroke-width="1.5"/>
<rect x="158.95" y="194.05" width="5.3" height="5.3" fill="#848484" stroke="#0a0a0a" stroke-width="1.25"/>
<rect x="158.95" y="210.95" width="5.3" height="5.3" fill="#848484" stroke="#0a0a0a" stroke-width="1.25"/>
<rect x="158.85" y="255.75" width="5.3" height="5.3" fill="#848484" stroke="#0a0a0a" stroke-width="1.25"/>
<rect x="141.85" y="265.25" width="5.3" height="5.3" fill="#848484" stroke="#0a0a0a" stroke-width="1.25"/>
<rect x="150.35" y="267.25" width="5.3" height="5.3" fill="#848484" stroke="#0a0a0a" stroke-width="1.25"/>
<rect x="158.85" y="267.25" width="5.3" height="5.3" fill="#848484" stroke="#0a0a0a" stroke-width="1.25"/>
<rect x="167.25" y="267.25" width="5.3" height="5.3" fill="#848484" stroke="#0a0a0a" stroke-width="1.25"/>
<rect x="175.85" y="265.85" width="5.3" height="5.3" fill="#848484" stroke="#0a0a0a" stroke-width="1.25"/>
<text transform="translate(90.30,283.80) scale(0.88,1)" font-size="8.50" text-anchor="middle">MI</text>
<text transform="translate(161.30,284.00) scale(0.88,1)" font-size="8.80" text-anchor="middle">CPB</text>
<text transform="translate(27.20,222.90) rotate(-90) scale(0.88,1)" font-size="9.56" text-anchor="middle">% KKO+ B cells</text>
<rect x="360.1" y="235.4" width="18.4" height="34.0" fill="#3b3b3b" stroke="#1a1a1a" stroke-width="0.9"/>
<rect x="387.0" y="195.4" width="18.4" height="74.0" fill="#3b3b3b" stroke="#1a1a1a" stroke-width="0.9"/>
<rect x="413.9" y="203.7" width="18.4" height="65.8" fill="#3b3b3b" stroke="#1a1a1a" stroke-width="0.9"/>
<g stroke="#111" stroke-width="1.3" fill="none">
<line x1="328.6" y1="175.8" x2="328.6" y2="269.45"/>
<line x1="328.1" y1="269.45" x2="464.2" y2="269.45"/>
<line x1="325" y1="269.45" x2="328.6" y2="269.45"/>
<line x1="325" y1="239.37" x2="328.6" y2="239.37"/>
<line x1="325" y1="209.29" x2="328.6" y2="209.29"/>
<line x1="325" y1="179.21" x2="328.6" y2="179.21"/>
<line x1="342.4" y1="269.45" x2="342.4" y2="272.5"/>
<line x1="369.3" y1="269.45" x2="369.3" y2="272.5"/>
<line x1="396.2" y1="269.45" x2="396.2" y2="272.5"/>
<line x1="423.1" y1="269.45" x2="423.1" y2="272.5"/>
<line x1="450.3" y1="269.45" x2="450.3" y2="272.5"/>
</g>
<text transform="translate(321.80,272.45) scale(0.88,1)" font-size="9.00" text-anchor="end">0</text>
<text transform="translate(321.80,242.37) scale(0.88,1)" font-size="9.00" text-anchor="end">20</text>
<text transform="translate(321.80,212.29) scale(0.88,1)" font-size="9.00" text-anchor="end">40</text>
<text transform="translate(321.80,182.21) scale(0.88,1)" font-size="9.00" text-anchor="end">60</text>
<text transform="translate(346.30,281.30) rotate(-45) scale(0.88,1)" font-size="9.10" text-anchor="end">-2 Hrs</text>
<text transform="translate(372.60,279.00) rotate(-45) scale(0.88,1)" font-size="9.10" text-anchor="end">+13 Hrs</text>
<text transform="translate(399.50,279.00) rotate(-45) scale(0.88,1)" font-size="9.10" text-anchor="end">+21 Hrs</text>
<text transform="translate(426.40,279.00) rotate(-45) scale(0.88,1)" font-size="9.10" text-anchor="end">+45 Hrs</text>
<text transform="translate(453.60,279.00) rotate(-45) scale(0.88,1)" font-size="9.10" text-anchor="end">+46 Hrs</text>
<text transform="translate(326.80,313.50) scale(0.88,1)" font-size="8.62" text-anchor="end">UFH (U/kg/h):</text>
<text transform="translate(326.40,325.10) scale(0.88,1)" font-size="8.57" text-anchor="end">aPTT(sec):</text>
<text transform="translate(342.40,313.50) scale(0.88,1)" font-size="8.60" text-anchor="middle">0</text>
<text transform="translate(342.40,325.10) scale(0.88,1)" font-size="8.60" text-anchor="middle">30</text>
<text transform="translate(369.30,313.50) scale(0.88,1)" font-size="8.60" text-anchor="middle">13</text>
<text transform="translate(369.30,325.10) scale(0.88,1)" font-size="8.60" text-anchor="middle">31</text>
<text transform="translate(396.20,313.50) scale(0.88,1)" font-size="8.60" text-anchor="middle">15</text>
<text transform="translate(396.20,325.10) scale(0.88,1)" font-size="8.60" text-anchor="middle">32</text>
<text transform="translate(423.10,313.50) scale(0.88,1)" font-size="8.60" text-anchor="middle">18</text>
<text transform="translate(423.10,325.10) scale(0.88,1)" font-size="8.60" text-anchor="middle">31</text>
<text transform="translate(450.30,313.50) scale(0.88,1)" font-size="8.60" text-anchor="middle">18</text>
<text transform="translate(450.30,325.10) scale(0.88,1)" font-size="8.60" text-anchor="middle">&gt;300</text>
<text transform="translate(306.60,222.70) rotate(-90) scale(0.88,1)" font-size="9.75" text-anchor="middle">% KKO+ B cells</text>
<rect x="0.5" y="0.5" width="519" height="333" fill="none" stroke="#000" stroke-width="1.2"/>
</svg></body></html>
